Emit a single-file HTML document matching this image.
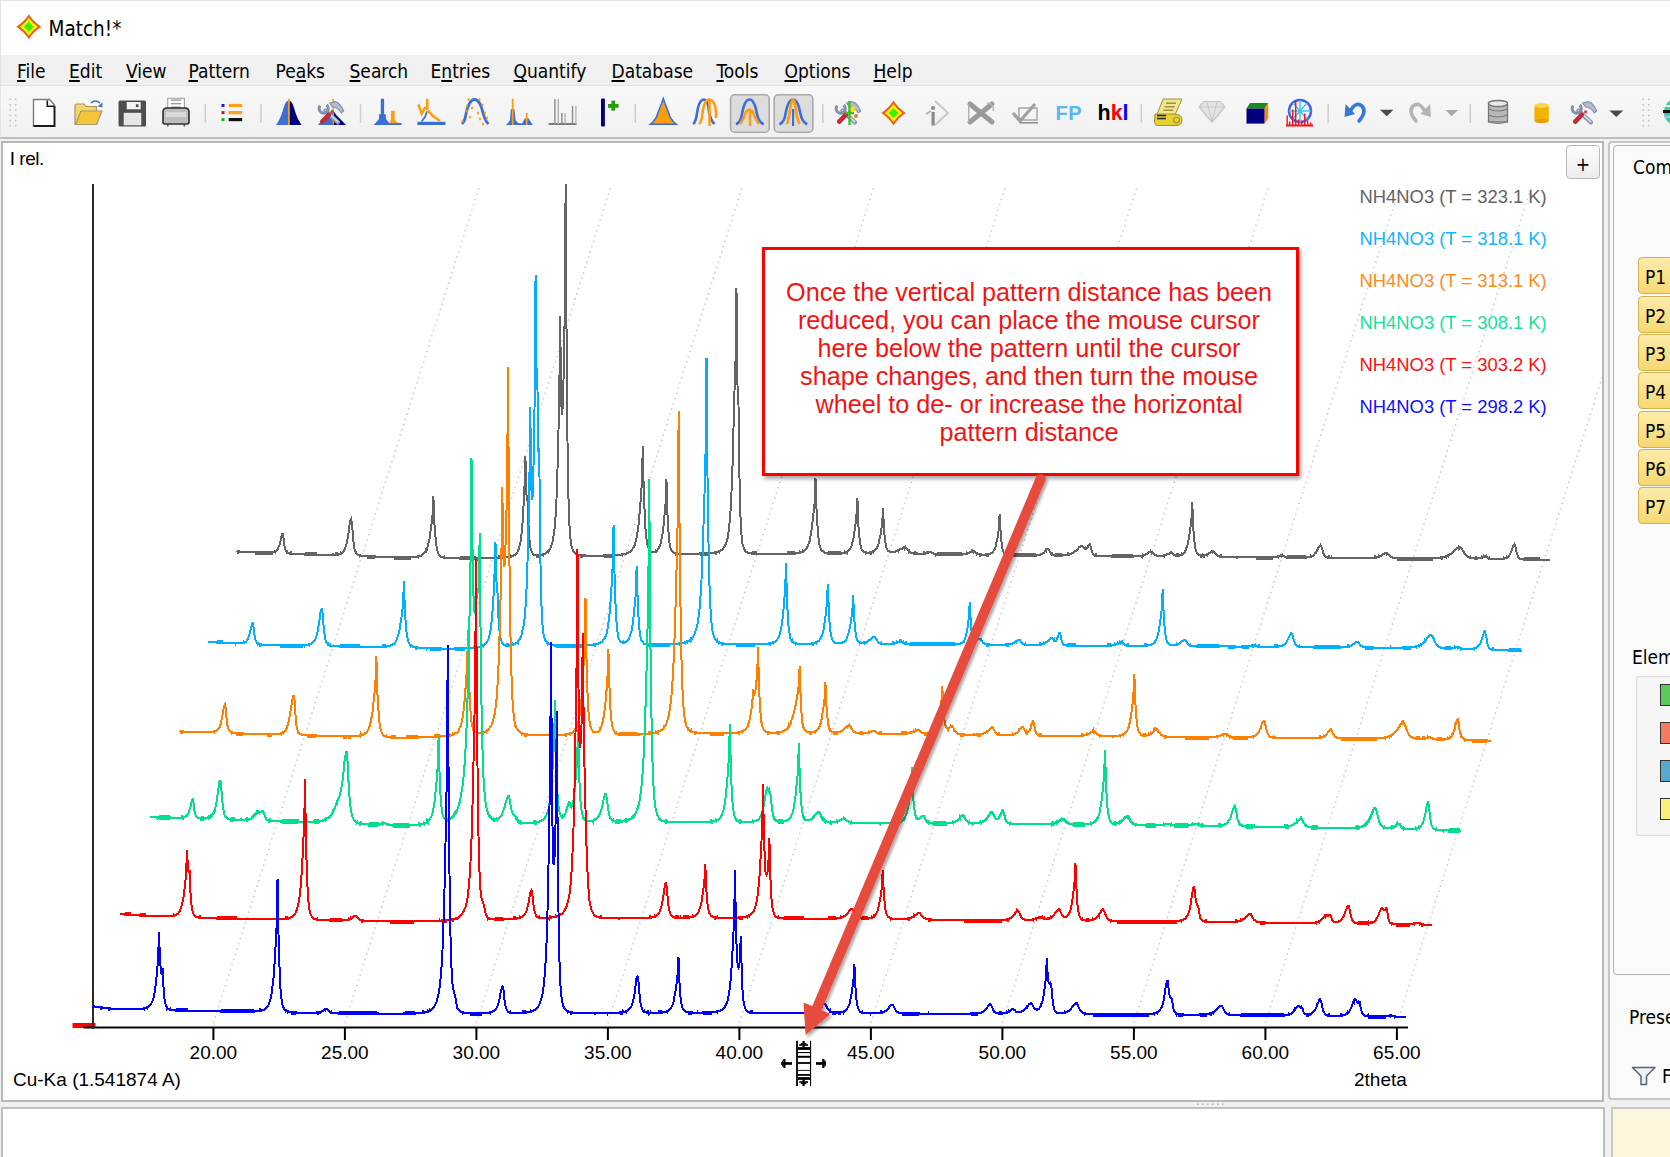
<!DOCTYPE html>
<html><head><meta charset="utf-8"><title>Match!*</title>
<style>
*{box-sizing:border-box}
html,body{margin:0;padding:0}
body{width:1670px;height:1157px;position:relative;overflow:hidden;background:#f0f0f0;font-family:"DejaVu Sans","Liberation Sans",sans-serif;color:#000}
.abs{position:absolute}
#title{left:0;top:0;width:1670px;height:55px;background:#fff;border-top:1px solid #e2e2e2;border-left:1px solid #e2e2e2}
#title .t{position:absolute;left:47.5px;top:16.3px;font-size:20.5px;line-height:24px;font-family:"DejaVu Sans Condensed","DejaVu Sans",sans-serif}
#menu{left:0;top:55px;width:1670px;height:31px;background:#f0f0f0;border-bottom:1px solid #e1e1e1;border-left:1px solid #e2e2e2}
#menu span{position:absolute;top:5px;font-size:19px;line-height:22px;font-family:"DejaVu Sans Condensed","DejaVu Sans",sans-serif}
#menu u{text-decoration:underline;text-decoration-thickness:1.6px;text-underline-offset:2px}
#tb{left:0;top:86px;width:1670px;height:53px;background:linear-gradient(#f8f8f8,#f1f1f1);border-bottom:2px solid #bdbdbd;border-left:1px solid #e2e2e2}
#chart{left:1px;top:141px;width:1603px;height:961px;background:#fff;border:2px solid #b7b7b7}
#bottom{left:1px;top:1107px;width:1604px;height:60px;background:#fff;border:2px solid #bfbfbf}
#rp{left:1608px;top:141px;width:70px;height:959px;background:#fafafa;border:2px solid #c6c6c6;border-radius:4px}
#rpin{left:1613px;top:145px;width:70px;height:830px;background:#fafafa;border:1.6px solid #b0b0b0;border-radius:4px}
#rb{left:1611px;top:1107px;width:70px;height:60px;background:#fcf7dc;border:2px solid #c9c9c9}
.tl{position:absolute;top:1042px;width:80px;text-align:center;font-family:"Liberation Sans",Arial,sans-serif;font-size:19px;line-height:22px;color:#000}
.lg{position:absolute;left:1359.5px;font-family:"Liberation Sans",Arial,sans-serif;font-size:18.4px;line-height:20px;white-space:nowrap}
.ct{position:absolute;font-family:"Liberation Sans",Arial,sans-serif;font-size:19px;line-height:22px;white-space:nowrap}
#note{left:762px;top:247px;width:537px;height:229px;background:#fff;border:3px solid #ff0000;box-shadow:2px 3px 4px rgba(0,0,0,.35)}
#note div{position:absolute;left:-1.5px;top:28px;width:531px;text-align:center;font-family:"Liberation Sans",Arial,sans-serif;font-size:25.2px;line-height:28px;color:#f21414}
.pb{position:absolute;left:1638px;width:40px;height:37px;border:1px solid #d2b24e;border-radius:4px;background:linear-gradient(#fcebaa,#f6d872);font-size:19px;line-height:38px;padding-left:6px;font-family:"DejaVu Sans Condensed","DejaVu Sans",sans-serif}
.sw{position:absolute;left:1660px;width:14px;border:1.5px solid #333}
.sp{position:absolute;font-size:19px;line-height:22px;font-family:"DejaVu Sans Condensed","DejaVu Sans",sans-serif}
</style></head><body>
<div id="title" class="abs"><div class="t">Match!*</div></div>
<div id="menu" class="abs">
<span style="left:16px"><u>F</u>ile</span>
<span style="left:68px"><u>E</u>dit</span>
<span style="left:125px"><u>V</u>iew</span>
<span style="left:187.5px"><u>P</u>attern</span>
<span style="left:274.5px">Pe<u>a</u>ks</span>
<span style="left:348.5px"><u>S</u>earch</span>
<span style="left:429.5px">E<u>n</u>tries</span>
<span style="left:512.5px"><u>Q</u>uantify</span>
<span style="left:610.5px"><u>D</u>atabase</span>
<span style="left:715.5px"><u>T</u>ools</span>
<span style="left:783.5px"><u>O</u>ptions</span>
<span style="left:872.5px"><u>H</u>elp</span>
</div>
<div id="tb" class="abs"></div>
<svg class="abs" style="left:0;top:0" width="1670" height="140" viewBox="0 0 1670 140">
<path d="M28.80 14.30 Q33.67 21.93 41.30 26.80 Q33.67 31.67 28.80 39.30 Q23.93 31.67 16.30 26.80 Q23.93 21.93 28.80 14.30Z" fill="#f25c14"/><path d="M28.80 17.80 Q32.49 23.11 37.80 26.80 Q32.49 30.49 28.80 35.80 Q25.11 30.49 19.80 26.80 Q25.11 23.11 28.80 17.80Z" fill="#f2f214"/><path d="M28.80 21.80 Q31.17 24.43 33.80 26.80 Q31.17 29.18 28.80 31.80 Q26.43 29.18 23.80 26.80 Q26.43 24.43 28.80 21.80Z" fill="#3cf000"/>
<rect x="9.5" y="98.6" width="1.5" height="1.5" fill="#bdbdbd"/><rect x="9.5" y="104.0" width="1.5" height="1.5" fill="#bdbdbd"/><rect x="9.5" y="109.3" width="1.5" height="1.5" fill="#bdbdbd"/><rect x="9.5" y="114.7" width="1.5" height="1.5" fill="#bdbdbd"/><rect x="9.5" y="119.8" width="1.5" height="1.5" fill="#bdbdbd"/><rect x="9.5" y="124.9" width="1.5" height="1.5" fill="#bdbdbd"/><rect x="14.9" y="98.6" width="1.5" height="1.5" fill="#bdbdbd"/><rect x="14.9" y="104.0" width="1.5" height="1.5" fill="#bdbdbd"/><rect x="14.9" y="109.3" width="1.5" height="1.5" fill="#bdbdbd"/><rect x="14.9" y="114.7" width="1.5" height="1.5" fill="#bdbdbd"/><rect x="14.9" y="119.8" width="1.5" height="1.5" fill="#bdbdbd"/><rect x="14.9" y="124.9" width="1.5" height="1.5" fill="#bdbdbd"/>
<path d="M33.5 99.5 H49.5 L54.5 105 V126 H33.5 Z" fill="#fff" stroke="#7a7a7a" stroke-width="1.4"/>
<path d="M33.5 126 H54.5 V106" fill="none" stroke="#1a1a1a" stroke-width="1.8"/>
<path d="M47.3 100.5 V106.3 H54" fill="none" stroke="#1a1a1a" stroke-width="1.6"/>
<path d="M75 124.5 V105.5 Q75 104 77 104 H84 L86 106.5 H96.5 V124.5 Z" fill="#f2d86a" stroke="#a8956a" stroke-width="1.2"/>
<path d="M75.5 124.5 L81 111 H102 L96.5 124.5 Z" fill="#f7c53a" stroke="#a8956a" stroke-width="1.2"/>
<path d="M91 103 Q95 99 100 103" fill="none" stroke="#4a72b0" stroke-width="1.6"/>
<path d="M97.5 106.5 L102.5 102.5 L102.5 107.5 Z" fill="#4a72b0"/>
<rect x="118.5" y="100.5" width="27.5" height="26" rx="1.5" fill="#4d4d4d"/>
<rect x="126.7" y="102" width="14" height="7.3" fill="#f2f2f2"/>
<rect x="135.9" y="104.3" width="2.6" height="2.8" fill="#4d4d4d"/>
<rect x="123.7" y="112.8" width="17.6" height="12.5" fill="#e6e6e6"/>
<rect x="167.7" y="98.3" width="16.7" height="14" fill="#fafafa" stroke="#9a9a9a" stroke-width="1"/>
<rect x="171" y="99.5" width="10" height="1.3" fill="#9a9a9a"/>
<rect x="171" y="103" width="10" height="1.3" fill="#9a9a9a"/>
<rect x="171" y="106.5" width="10" height="1.3" fill="#9a9a9a"/>
<rect x="171" y="110" width="10" height="1.3" fill="#9a9a9a"/>
<path d="M163 112 Q163 108 167 108 H185 Q189 108 189 112 V122 Q189 124 187 124 H165 Q163 124 163 122 Z" fill="#bdbdbd" stroke="#2e2e2e" stroke-width="1.6"/>
<rect x="166" y="112" width="20" height="5" fill="#d9d9d9"/>
<rect x="167" y="123" width="1.6" height="3.5" fill="#555"/><rect x="183.5" y="123" width="1.6" height="3.5" fill="#555"/>
<rect x="204.55" y="104" width="1.5" height="19" fill="#cdcdcd"/>
<rect x="221.5" y="104.0" width="3" height="3" fill="#1515ff"/><rect x="228.7" y="103.9" width="13.5" height="3.2" fill="#ffa01a"/>
<rect x="221.5" y="111.1" width="3" height="3" fill="#d01515"/><rect x="228.7" y="111.0" width="13.5" height="3.2" fill="#ffa01a"/>
<rect x="221.5" y="118.1" width="3" height="3" fill="#15b015"/><rect x="228.7" y="118.0" width="13.5" height="3.2" fill="#111"/>
<rect x="260.15" y="104" width="1.5" height="19" fill="#cdcdcd"/>
<polygon points="275.8,125.0 277.0,123.5 278.5,121.0 280.5,117.0 282.0,113.0 283.5,108.0 285.0,104.0 286.5,101.5 288.8,100.5 288.8,125.0" fill="#3b6fd6"/>
<polygon points="288.8,125.0 288.8,100.5 291.1,101.5 292.6,104.0 294.1,108.0 295.6,113.0 297.1,117.0 299.1,121.0 300.6,123.5 301.8,125.0" fill="#00007f"/>
<rect x="288" y="98.8" width="1.8" height="26.2" fill="#f0a020"/>
<polygon points="318,125 323,119 327,116 330,112 332,109.5 334,112 337,116 341,120 346,125" fill="#3b6fd6"/>
<polygon points="332,109.5 334,112 337,116 341,120 346,125 332,125" fill="#00007f"/>
<rect x="332.3" y="98.8" width="1.6" height="26" fill="#f0a020"/>
<path d="M325.4 110.7 L337.9 122.3" stroke="#8a97b0" stroke-width="4.4" stroke-linecap="round"/>
<path d="M325.8 110.6 L337.6 121.6" stroke="#d4dae6" stroke-width="1.6" stroke-linecap="round"/>
<path d="M320.2 105.6 A4.6 4.6 0 1 0 326.6 105" fill="none" stroke="#8190aa" stroke-width="3"/>
<path d="M329.6 103.2 L335 101.6 Q341 103.5 343.6 111 L341.2 112.8 Q338 107.5 332.5 107 Z" fill="#b4bdd0" stroke="#8595b0" stroke-width="1.2"/>
<path d="M322.2 121.6 L328.8 114.8" stroke="#c42a3a" stroke-width="4.6" stroke-linecap="round"/>
<circle cx="332.6" cy="111.8" r="1.6" fill="#d84040"/>
<rect x="359.75" y="104" width="1.5" height="19" fill="#cdcdcd"/>
<polygon points="373.8,125 379,119 379.1,114.2 380.8,114.2 380.8,98.8 384.1,98.8 384.1,114.2 385.8,114.2 386,119 389.2,123 401.6,123 401.6,125" fill="#3b6fd6"/>
<polygon points="389.2,123.2 391,120 391,110.8 394.7,110.8 394.7,120 398.3,123.2" fill="#ff9c10"/>
<rect x="417.4" y="121.8" width="28" height="3.2" fill="#3b6fd6"/>
<path d="M421.5 121.5 L425 117 L427 111.5" fill="none" stroke="#3b6fd6" stroke-width="1.8"/>
<path d="M418.3 104.5 L421.7 113.5 L425.5 107 M427.2 98.8 V110 M427.8 110.5 L433 116 L440 121" fill="none" stroke="#ff9c10" stroke-width="2.6"/>
<path d="M462 124 Q465 121 466 114 Q469 99.5 474.5 99.5 Q480 99.5 483 113 Q485 121 488.5 124" fill="none" stroke="#3b6fd6" stroke-width="2.8"/>
<rect x="467.6" y="98.2" width="1.8" height="2.6" fill="#ff9c10"/>
<rect x="478.6" y="98.2" width="1.8" height="2.6" fill="#ff9c10"/>
<rect x="466.1" y="104.7" width="1.8" height="2.6" fill="#ff9c10"/>
<rect x="481.6" y="103.7" width="1.8" height="2.6" fill="#ff9c10"/>
<rect x="465.6" y="109.7" width="1.8" height="2.6" fill="#ff9c10"/>
<rect x="471.1" y="106.7" width="1.8" height="2.6" fill="#ff9c10"/>
<rect x="477.1" y="111.7" width="1.8" height="2.6" fill="#ff9c10"/>
<rect x="484.1" y="111.7" width="1.8" height="2.6" fill="#ff9c10"/>
<rect x="469.1" y="115.7" width="1.8" height="2.6" fill="#ff9c10"/>
<rect x="479.1" y="117.7" width="1.8" height="2.6" fill="#ff9c10"/>
<rect x="486.1" y="116.7" width="1.8" height="2.6" fill="#ff9c10"/>
<rect x="461.6" y="119.7" width="1.8" height="2.6" fill="#ff9c10"/>
<rect x="482.1" y="122.7" width="1.8" height="2.6" fill="#ff9c10"/>
<polygon points="505.9,125 508,123 510,120 510.8,109.2 514.5,109.2 515.5,120 518,123 522,123.5 524,120 525,118.2 528.5,118.2 529.5,120 532.8,125" fill="#3b6fd6"/>
<rect x="511.8" y="98.7" width="1.8" height="26.3" fill="#ff9c10"/><rect x="525.8" y="113" width="1.8" height="12" fill="#ff9c10"/>
<rect x="548.6" y="123" width="28" height="2" fill="#7a7a7a"/>
<rect x="554.1999999999999" y="99.1" width="1.4" height="24.900000000000006" fill="#8c8c8c"/>
<rect x="557.5999999999999" y="99.1" width="1.4" height="24.900000000000006" fill="#b0b0b0"/>
<rect x="561.1999999999999" y="113" width="1.4" height="11" fill="#8c8c8c"/>
<rect x="564.3" y="113" width="1.4" height="11" fill="#b0b0b0"/>
<rect x="571.8" y="105.9" width="1.4" height="18.099999999999994" fill="#8c8c8c"/>
<rect x="575.1999999999999" y="105.9" width="1.4" height="18.099999999999994" fill="#b8b8b8"/>
<rect x="601" y="98.6" width="3.9" height="28" rx="1" fill="#00007f"/>
<rect x="608" y="104" width="10.6" height="3.8" fill="#2a9a10"/><rect x="611.4" y="100.6" width="3.8" height="10.1" fill="#2a9a10"/>
<rect x="634.55" y="104" width="1.5" height="19" fill="#cdcdcd"/>
<polygon points="650.3,124.3 653.5,121.5 656.7,116.6 659.0,110.0 661.6,103.5 663.3,98.6 665.0,103.5 667.6,110.0 669.9,116.6 673.1,121.5 676.3,124.3" fill="#ff9c10" stroke="#3b6fd6" stroke-width="1.6"/>
<path d="M693 124 Q696 122 697 113 Q699 99.5 704 99.5 Q708 100 709 112 Q711 121 714.5 124" fill="none" stroke="#3b6fd6" stroke-width="2.6"/>
<path d="M699 124 Q702 121 702.5 113 Q704 99.5 709.5 99.5 Q715 100 716 112 L716 118 M709.5 100 V126" fill="none" stroke="#ff9c10" stroke-width="2.6"/>
<rect x="730.5999999999999" y="94.8" width="38.6" height="37.4" rx="4" fill="#dcdcdc" stroke="#a9a9a9" stroke-width="1.6"/>
<rect x="774.1999999999999" y="94.8" width="38.6" height="37.4" rx="4" fill="#dcdcdc" stroke="#a9a9a9" stroke-width="1.6"/>
<path d="M736 124.3 Q741 122 742 114 Q744.5 99.5 749.5 99.5 Q754.5 99.5 757 114 Q758.5 122 763.7 124.3" fill="none" stroke="#3b6fd6" stroke-width="2.6"/>
<path d="M740 124 Q744 119 746 112 Q748 109.5 749.5 109.5 Q751 109.5 753 112 Q755 119 759 124 M750 110 V126" fill="none" stroke="#ff9c10" stroke-width="2.6"/>
<path d="M779.5 124.3 Q784.5 122 785.5 114 Q788 99.5 793 99.5 Q798 99.5 800.5 114 Q802 122 807.3 124.3" fill="none" stroke="#3b6fd6" stroke-width="2.6"/>
<path d="M787 124 Q789.5 117 790.5 107 Q792 99 793 99 Q794 99 795.5 107 Q796.5 117 799.5 124" fill="none" stroke="#ff9c10" stroke-width="2.6"/>
<rect x="792" y="109" width="2.2" height="17" fill="#3b6fd6"/>
<rect x="822.05" y="104" width="1.5" height="19" fill="#cdcdcd"/>
<path d="M842.4 110.7 L854.9 122.3" stroke="#8a97b0" stroke-width="4.4" stroke-linecap="round"/>
<path d="M842.8 110.6 L854.6 121.6" stroke="#d4dae6" stroke-width="1.6" stroke-linecap="round"/>
<path d="M837.2 105.6 A4.6 4.6 0 1 0 843.6 105" fill="none" stroke="#8190aa" stroke-width="3"/>
<path d="M846.6 103.2 L852 101.6 Q858 103.5 860.6 111 L858.2 112.8 Q855 107.5 849.5 107 Z" fill="#b4bdd0" stroke="#8595b0" stroke-width="1.2"/>
<path d="M839.2 121.6 L845.8 114.8" stroke="#c42a3a" stroke-width="4.6" stroke-linecap="round"/>
<circle cx="849.6" cy="111.8" r="1.6" fill="#d84040"/>
<path d="M849.5 101 V125 M845 113 H854" stroke="#40c020" stroke-width="2.4"/>
<circle cx="853" cy="109" r="2.5" fill="#f0e020"/><circle cx="856" cy="116" r="2" fill="#f08020"/>
<path d="M893.50 100.50 Q898.26 108.12 905.70 113.00 Q898.26 117.88 893.50 125.50 Q888.74 117.88 881.30 113.00 Q888.74 108.12 893.50 100.50Z" fill="#f25c14"/><path d="M893.50 104.00 Q897.10 109.31 902.28 113.00 Q897.10 116.69 893.50 122.00 Q889.90 116.69 884.72 113.00 Q889.90 109.31 893.50 104.00Z" fill="#f2f214"/><path d="M893.50 108.00 Q895.82 110.62 898.38 113.00 Q895.82 115.38 893.50 118.00 Q891.18 115.38 888.62 113.00 Q891.18 110.62 893.50 108.00Z" fill="#3cf000"/>
<path d="M935 101 L948 113 L935 125" fill="none" stroke="#c8c8c8" stroke-width="2"/>
<rect x="931.5" y="112" width="3.2" height="13.5" fill="#8a8a8a"/><circle cx="933" cy="108" r="2" fill="#8a8a8a"/>
<path d="M926 114 L931 111" stroke="#b0b0b0" stroke-width="2"/>
<path d="M970 104 L992 122 M970 122 L992 104" stroke="#9a9a9a" stroke-width="5" stroke-linecap="round"/>
<rect x="968" y="104" width="1.5" height="18" fill="#b0b0b0"/>
<path d="M987 103 Q995 104 993 111" fill="none" stroke="#b8b8b8" stroke-width="1.5"/>
<path d="M1013 113 L1020 121 L1035 104" fill="none" stroke="#a0a0a0" stroke-width="3.2"/>
<rect x="1019" y="108" width="18" height="12" fill="none" stroke="#9a9a9a" stroke-width="1.3"/>
<rect x="1020" y="122" width="18" height="1.5" fill="#8a8a8a"/>
<text x="1055.5" y="119.6" font-family="Liberation Sans, Arial, sans-serif" font-weight="bold" font-size="20" fill="#5ab4f5" letter-spacing="0.5">FP</text>
<text x="1097.5" y="119.6" font-family="Liberation Sans, Arial, sans-serif" font-weight="bold" font-size="21.5"><tspan fill="#000">h</tspan><tspan fill="#ff0000">k</tspan><tspan fill="#0000ff">l</tspan></text>
<rect x="1140.55" y="104" width="1.5" height="19" fill="#cdcdcd"/>
<path d="M1163 99 H1182 L1174 117 H1156 Z" fill="#f0e68a" stroke="#a09040" stroke-width="1"/>
<rect x="1166.0" y="102.5" width="10" height="1.5" fill="#a09040"/>
<rect x="1164.6" y="106" width="10" height="1.5" fill="#a09040"/>
<rect x="1163.2" y="109.5" width="10" height="1.5" fill="#a09040"/>
<path d="M1155 114 H1174 Q1182 114 1182 120 Q1182 125.5 1176 125.5 H1157 Q1154.5 125.5 1154.5 120 Z" fill="#e8d030" stroke="#a09040" stroke-width="1"/>
<rect x="1157" y="114.8" width="9" height="1.5" fill="#222"/><rect x="1157" y="117.8" width="9" height="1.5" fill="#222"/>
<circle cx="1176.5" cy="120" r="3" fill="none" stroke="#a09040" stroke-width="1.2"/>
<path d="M1199 107 L1204 101.5 H1220 L1225 107 L1212 122 Z" fill="#e4e4e4" stroke="#c4c4c4" stroke-width="1.2"/>
<path d="M1199 107 H1225 M1207 101.5 L1212 122 L1217 101.5" fill="none" stroke="#c8c8c8" stroke-width="1"/>
<polygon points="1246.5,108.5 1250,103 1268.2,103 1264.5,108.5" fill="#1a8a1a"/>
<polygon points="1264.5,108.5 1268.2,103 1268.2,118.5 1264.5,123.6" fill="#ff8a00"/>
<rect x="1246.5" y="108.5" width="18" height="15.1" fill="#00007f"/>
<circle cx="1300" cy="111" r="11" fill="none" stroke="#4858f0" stroke-width="2.4"/>
<path d="M1300 100 V122 M1289 111 H1311 M1293 103 L1307 119 M1307 103 L1293 119" stroke="#38c8f0" stroke-width="1.5"/>
<path d="M1286 125.5 H1313" stroke="#ff1010" stroke-width="2"/>
<rect x="1286.5" y="115.5" width="1.4" height="10" fill="#ff1010"/>
<rect x="1289" y="121.5" width="1.4" height="4" fill="#ff1010"/>
<rect x="1292" y="109.5" width="1.4" height="16" fill="#ff1010"/>
<rect x="1295" y="100.5" width="1.4" height="25" fill="#ff1010"/>
<rect x="1298" y="119.5" width="1.4" height="6" fill="#ff1010"/>
<rect x="1301" y="121.5" width="1.4" height="4" fill="#ff1010"/>
<rect x="1304" y="113.5" width="1.4" height="12" fill="#ff1010"/>
<rect x="1307" y="120.5" width="1.4" height="5" fill="#ff1010"/>
<rect x="1310" y="122.5" width="1.4" height="3" fill="#ff1010"/>
<rect x="1327.45" y="104" width="1.5" height="19" fill="#cdcdcd"/>
<path d="M1350 112 Q1355 101 1362 106 Q1367 112 1359 121" fill="none" stroke="#3a78d8" stroke-width="3.6" stroke-linecap="round"/>
<polygon points="1344.6,117 1345.5,104 1355,114" fill="#3a78d8"/>
<polygon points="1380,109.7 1393.4,109.7 1386.7,116.3" fill="#4a4a4a"/>
<path d="M1425 112 Q1420 101 1413 106 Q1408 112 1416 121" fill="none" stroke="#b4b4b4" stroke-width="3.6" stroke-linecap="round"/>
<polygon points="1431,117 1430,104 1420.5,114" fill="#b4b4b4"/>
<polygon points="1445.5,110 1458,110 1451.7,116.2" fill="#a8a8a8"/>
<rect x="1469.55" y="104" width="1.5" height="19" fill="#cdcdcd"/>
<rect x="1488.5" y="103" width="19" height="19" fill="#b8b8b8" stroke="#777" stroke-width="1.3"/>
<ellipse cx="1498" cy="103.5" rx="9.5" ry="3" fill="#e8e8e8" stroke="#777" stroke-width="1.3"/>
<path d="M1488.5 109 Q1498 113 1507.5 109" fill="none" stroke="#777" stroke-width="1.2"/>
<path d="M1488.5 115 Q1498 119 1507.5 115" fill="none" stroke="#777" stroke-width="1.2"/>
<path d="M1488.5 121.5 Q1498 125.5 1507.5 121.5" fill="none" stroke="#777" stroke-width="1.2"/>
<rect x="1534.4" y="105" width="14.4" height="16.5" rx="2" fill="#f2b400"/>
<ellipse cx="1541.6" cy="105.5" rx="7.2" ry="2.6" fill="#ffd84a"/>
<ellipse cx="1541.6" cy="121" rx="7.2" ry="2.2" fill="#e0a000"/>
<path d="M1578.4 110.7 L1590.9 122.3" stroke="#8a97b0" stroke-width="4.4" stroke-linecap="round"/>
<path d="M1578.8 110.6 L1590.6 121.6" stroke="#d4dae6" stroke-width="1.6" stroke-linecap="round"/>
<path d="M1573.2 105.6 A4.6 4.6 0 1 0 1579.6 105" fill="none" stroke="#8190aa" stroke-width="3"/>
<path d="M1582.6 103.2 L1588 101.6 Q1594 103.5 1596.6 111 L1594.2 112.8 Q1591 107.5 1585.5 107 Z" fill="#b4bdd0" stroke="#8595b0" stroke-width="1.2"/>
<path d="M1575.2 121.6 L1581.8 114.8" stroke="#c42a3a" stroke-width="4.6" stroke-linecap="round"/>
<circle cx="1585.6" cy="111.8" r="1.6" fill="#d84040"/>
<polygon points="1609.4,110.5 1623.2,110.5 1616.3,117" fill="#4a4a4a"/>
<rect x="1642.5" y="98.6" width="1.5" height="1.5" fill="#bdbdbd"/><rect x="1642.5" y="104.0" width="1.5" height="1.5" fill="#bdbdbd"/><rect x="1642.5" y="109.3" width="1.5" height="1.5" fill="#bdbdbd"/><rect x="1642.5" y="114.7" width="1.5" height="1.5" fill="#bdbdbd"/><rect x="1642.5" y="119.8" width="1.5" height="1.5" fill="#bdbdbd"/><rect x="1642.5" y="124.9" width="1.5" height="1.5" fill="#bdbdbd"/><rect x="1647.9" y="98.6" width="1.5" height="1.5" fill="#bdbdbd"/><rect x="1647.9" y="104.0" width="1.5" height="1.5" fill="#bdbdbd"/><rect x="1647.9" y="109.3" width="1.5" height="1.5" fill="#bdbdbd"/><rect x="1647.9" y="114.7" width="1.5" height="1.5" fill="#bdbdbd"/><rect x="1647.9" y="119.8" width="1.5" height="1.5" fill="#bdbdbd"/><rect x="1647.9" y="124.9" width="1.5" height="1.5" fill="#bdbdbd"/>
<circle cx="1678" cy="112" r="14" fill="#40c8a0"/>
<rect x="1663" y="110" width="10" height="3" fill="#111"/>
<path d="M1664 106 H1672" stroke="#fff" stroke-width="1.5"/><path d="M1664 117 H1672" stroke="#8ad8f8" stroke-width="2"/>
</svg>
<div id="chart" class="abs"></div>
<div id="bottom" class="abs"></div>
<div id="rp" class="abs"></div>
<div id="rpin" class="abs"></div>
<div id="rb" class="abs"></div>
<svg class="abs" style="left:0;top:0" width="1670" height="1157" viewBox="0 0 1670 1157">
<defs><clipPath id="cc"><rect x="3" y="143" width="1599" height="956"/></clipPath></defs>
<g clip-path="url(#cc)">
<g stroke="#c8c8c8" stroke-width="1.5" stroke-dasharray="1.5 4"><line x1="213.4" y1="1023" x2="479.9" y2="185"/><line x1="344.9" y1="1023" x2="611.4" y2="185"/><line x1="476.4" y1="1023" x2="742.9" y2="185"/><line x1="607.9" y1="1023" x2="874.4" y2="185"/><line x1="739.4" y1="1023" x2="1005.9" y2="185"/><line x1="870.9" y1="1023" x2="1137.4" y2="185"/><line x1="1002.4" y1="1023" x2="1268.9" y2="185"/><line x1="1133.9" y1="1023" x2="1400.4" y2="185"/><line x1="1265.4" y1="1023" x2="1531.9" y2="185"/><line x1="1396.9" y1="1023" x2="1663.4" y2="185"/></g>
<rect x="72.5" y="1023" width="23" height="5" fill="#ff0000"/>
<rect x="83.5" y="1026.5" width="1324.5" height="2" fill="#000"/>
<rect x="92" y="184" width="2" height="845" fill="#2b2b2b"/>
<rect x="212.4" y="1027" width="2" height="13" fill="#000"/><rect x="343.9" y="1027" width="2" height="13" fill="#000"/><rect x="475.4" y="1027" width="2" height="13" fill="#000"/><rect x="606.9" y="1027" width="2" height="13" fill="#000"/><rect x="738.4" y="1027" width="2" height="13" fill="#000"/><rect x="869.9" y="1027" width="2" height="13" fill="#000"/><rect x="1001.4" y="1027" width="2" height="13" fill="#000"/><rect x="1132.9" y="1027" width="2" height="13" fill="#000"/><rect x="1264.4" y="1027" width="2" height="13" fill="#000"/><rect x="1395.9" y="1027" width="2" height="13" fill="#000"/>
<path fill="none" stroke="#646367" stroke-width="2" shape-rendering="crispEdges" d="M237.0 551l.5 1l.5-1l.5 1l.5-1l.5 1l15.5 0l.5 1l.5-1l.5 1l.5-1l.5 1l.5-1l.5 1l.5-1l.5 1l.5-1l.5 1l.5-1l.5 1l.5-1l.5 1l.5-1l.5 1l.5-1l.5 1l.5-1l.5 1l.5-1l.5 1l.5-1l.5 1l.5-1l.5 1l.5-1l.5 1l.5-1l.5 1l.5-1l.5 1l.5-1l.5 1l.5-1l1.5 0l.5-1l.5 1l.5-1l.5 0l.5-1l.5 0l.5-2l.5-1l.5-1l.5-1l.5-2l.5-2l.5-3l.5-2l.5-2l.5 0l.1-1l.4 2l.5 3l.5 4l.5 4l.5 3l.5 1l.5 1l.5 1l.5 1l.5-1l.5 1l1.5 0l.5 1l.5-1l.5 1l.5-1l.5 1l12.5 0l.5 1l.5-1l.5 1l.5-1l.5 1l.5-1l.5 1l.5-1l.5 1l.5-1l.5 1l.5-1l.5 1l.5-1l.5 1l.5-1l.5 1l.5-1l.5 1l.5-1l.5 1l.5-1l.5 1l.5-1l.5 1l15.5 0l.5-1l.5 1l1.5 0l.5-1l.5 1l.5-1l.5 1l.5-1l.5 1l.5-1l1.5 0l.5-1l.5 1l.5-1l.5 0l.5-1l.5 0l.5-1l.5 0l.5-2l.5 0l.5-2l.5-1l.5-2l.5-2l.5-3l.5-2l.5-4l.5-3l.5-5l.5-2l.5-3l.5-1l.2 1l.3 1l.5 4l.5 5l.5 7l.5 5l.5 3l.5 4l.5 1l.5 2l.5 0l.5 2l.5 0l.5 1l1.5 0l.5 1l.5-1l.5 1l6.5 0l.5 1l.5-1l.5 1l.5-1l.5 1l.5-1l.5 1l.5-1l.5 1l.5-1l.5 1l.5-1l.5 1l.5-1l.5 1l.5-1l.5 1l18.5 0l.5 1l.5-1l.5 1l.5-1l.5 1l.5-1l.5 1l.5-1l.5 1l.5-1l.5 1l.5-1l.5 1l.5-1l.5 1l.5-1l.5 1l.5-1l.5 1l.5-1l.5 1l.5-1l.5 1l.5-1l.5 1l.5-1l.5 1l.5-1l.5 1l.5-1l.5 1l.5-1l.5 1l.5-1l6.5 0l.5-1l.5 1l.5-1l2.5 0l.5-1l.5 0l.5-1l.5 0l.5-1l.5 0l.5-1l.5 0l.5-2l.5 1l.5-3l.5-1l.5-2l.5-2l.5-3l.5-1l.5-5l.5-3l.5-4l.5-3l.5-4l.5-5l.5-12l.3-7l.2 4l.5 16l.5 9l.5 8l.5 4l.5 6l.5 3l.5 4l.5 1l.5 2l.5 1l.5 1l.5 0l.5 1l.5 0l.5 1l2.5 0l.5 1l.5-1l.5 1l14.5 0l.5 1l.5-1l.5 1l.5-1l.5 1l.5-1l.5 1l.5-1l.5 1l.5-1l.5 1l.5-1l.5 1l.5-1l.5 1l.5-1l.5 1l.5-1l.5 1l.5-1l.5 1l.5-1l.5 1l.5-1l.5 1l.5-1l.5 1l.5-1l.5 1l.5-1l.5 1l.5-1l.5 1l.5-1l.5 0l.5 1l.5-1l20 0l.5-1l.5 1l.5-1l.5 1l.5-1l.5 1l.5-1l.5 1l.5-1l.5 1l.5-1l.5 1l.5-1l4.5 0l.5-1l.5 1l.5-1l.5 1l.5-1l1.5 0l.5-1l1.5 0l.5-1l.5 0l.5-1l.5 0l.5-1l.5-1l.5-2l.5 0l.5-3l.5-2l.5-2l.5-2l.5-6l.5-4l.5-7l.5-8l.5-9l.5-9l.5-11l.5-20l.3-10l.2 4l.5 22l.5 13l.5 5l.5 0l.5 14l.5 11l.5 9l.5 6l.5 3l.5 5l.5 1l.5 2l.5 1l.5 1l.5 1l.5 1l2.5 0l.5 1l.5-1l.5 1l.5-1l.5 1l.5-1l.5 1l.5-1l2.5 0l.5-1l.5 1l.5-1l1.5 0l.5-1l.5 0l.5-1l.5 0l.5-1l.5 1l.5-2l.5 0l.5-1l.5-1l.5-2l.5-1l.5-2l.5-1l.5-3l.5-3l.5-4l.5-3l.5-6l.5-6l.5-9l.5-9l.5-14l.5-16l.5-19l.5-20l.5-23l.5-31l.5-56l.1-4l.4 29l.5 41l.5 21l.5 8l.5-5l.5-12l.5-18l.5-26l.5-27l.5-41l.5-82l.2-20l.3 43l.5 102l.5 66l.5 46l.5 35l.5 23l.5 14l.5 13l.5 7l.5 6l.5 3l.5 4l.5 1l.5 2l.5 1l.5 2l.5 0l.5 1l.5 0l.5 1l.5 0l.5 1l.5-1l.5 1l2.5 0l.5 1l.5-1l.5 1l.5-1l.5 1l.5-1l.5 1l1 0l.5-1l.5 1l17.5 0l.5-1l.5 0l.5 1l.5-1l.5 1l.5-1l.5 1l.5-1l.5 1l.5-1l.5 1l.5-1l.5 1l.5-1l.5 1l.5-1l.5 1l.5-1l.5 1l.5-1l.5 1l.5-1l7.5 0l.5-1l.5 1l.5-1l3.5 0l.5-1l1.5 0l.5-1l1.5 0l.5-1l.5 0l.5-1l.5-1l.5-1l.5 0l.5-2l.5 0l.5-3l.5-1l.5-2l.5-2l.5-3l.5-3l.5-4l.5-3l.5-6l.5-5l.5-7l.5-5l.5-7l.5-7l.5-10l.5-20l.3-12l.2 7l.5 27l.5 17l.5 12l.5 11l.5 9l.5 6l.5 4l.5 4l.5 2l.5 2l.5 1l.5 2l.5 0l.5 1l.5 0l.5 1l4 0l.5-1l.5 1l.5-1l.5 0l.5-1l.5-1l.5-1l.5 0l.5-2l.5 0l.5-2l.5-2l.5-3l.5-2l.5-3l.5-4l.5-4l.5-5l.5-6l.5-4l.5-7l.5-13l.4-12l.1 2l.5 19l.5 15l.5 9l.5 8l.5 6l.5 5l.5 2l.5 3l.5 1l.5 2l.5 0l.5 1l.5 0l.5 1l1.5 0l.5 1l.5-1l.5 1l23 0l.5-1l.5 1l.5-1l.5 1l.5-1l.5 1l.5-1l.5 1l.5-1l.5 1l.5-1l.5 1l.5-1l.5 1l.5-1l.5 1l.5-1l.5 1l.5-1l.5 1l.5-1l4.5 0l.5-1l.5 1l.5-1l.5 1l.5-1l1.5 0l.5-1l.5 1l.5-1l.5 0l.5-1l1 0l.5-1l.5 0l.5-1l.5-1l.5 0l.5-2l.5 0l.5-2l.5-1l.5-3l.5 0l.5-4l.5-3l.5-4l.5-5l.5-6l.5-6l.5-10l.5-9l.5-12l.5-13l.5-17l.5-22l.5-32l.5-5l.5-12l.5-17l.5-36l.4-38l.1 3l.5 57l.5 37l.5 19l.5 1l.5 39l.5 34l.5 23l.5 16l.5 11l.5 7l.5 5l.5 4l.5 2l.5 1l.5 2l.5 0l.5 2l.5 0l.5 1l1.5 0l.5 1l3.5 0l.5 1l.5-1l.5 1l.5-1l.5 1l.5-1l.5 1l.5-1l.5 1l.5-1l.5 1l30 0l.5-1l.5 1l.5-1l.5 1l.5-1l.5 1l.5-1l.5 1l.5-1l.5 1l.5-1l.5 1l.5-1l.5 1l.5-1l.5 1l.5-1l3.5 0l.5-1l.5 1l.5-1l1.5 0l.5-1l.5 1l.5-1l.5 0l.5-1l.5 0l.5-1l.5 0l.5-1l.5 0l.5-2l.5 0l.5-2l.5-2l.5 0l.5-4l.5-2l.5-2l.5-4l.5-4l.5-4l.5-3l.5-6l.5-3l.5-6l.5-9l.5-17l.5 18l.5 13l.5 10l.5 7l.5 8l.5 4l.5 4l.5 3l.5 2l.5 1l.5 2l.5 0l.5 1l1 0l.5 1l1 0l.5 1l2.5 0l.5 1l.5-1l.5 1l.5-1l.5 1l.5-1l.5 1l.5-1l.5 1l.5-1l.5 1l.5-1l.5 1l.5-1l.5 1l.5-1l.5 1l.5-1l.5 1l.5-1l.5 1l.5-1l.5 1l.5-1l.5 1l.5-1l.5 1l.5-1l2.5 0l.5-1l.5 1l.5-1l1 0l.5 1l.5-2l.5 0l.5-1l.5 0l.5-1l.5 0l.5-1l.5-1l.5-1l.5-2l.5-2l.5-2l.5-2l.5-3l.5-4l.5-3l.5-4l.5-3l.5-7l.5-11l.3-5l.2 3l.5 16l.5 10l.5 6l.5 5l.5 4l.5 3l.5 2l.5 2l.5 1l.5 1l.5 0l.5 1l1.5 0l.5 1l.5-1l.5 1l3 0l.5-1l.5 1l.5-1l.5 1l.5-1l.5 0l.5-1l.5 1l.5-1l.5-1l1 0l.5-1l.5 0l.5-2l.5 0l.5-1l.5-2l.5-3l.5-2l.5-2l.5-2l.5-4l.5-3l.5-4l.5-6l.5-10l.5 11l.5 9l.5 7l.5 4l.5 4l.5 3l.5 2l.5 1l.5 1l.5 1l1 0l.5 1l6 0l.5-1l1.5 0l.5-1l.5 1l.5-1l.5-1l2.5 0l.5-1l1 0l.5-1l.5 1l.3-1l.2 1l.5-1l.5 1l.5 0l.5 1l.5 0l.5 1l.5 0l.5 2l.5-1l.5 1l.5 0l.5 1l2.5 0l.5 1l.5-1l.5 1l.5-1l.5 1l.5 0l.5-1l.5 1l5.5 0l.5-1l.5 1l.5-1l.5 1l.5-1l1 0l.5-1l.5 0l.5 1l.5-1l3 0l.5 1l1.5 0l.5 1l1 0l.5 1l.5-1l.5 0l.5 1l.5-1l.5 1l.5-1l.5 1l.5-1l.5 1l.5-1l.5 1l.5-1l.5 1l.5-1l.5 1l.5-1l.5 1l.5-1l.5 1l.5-1l.5 1l.5-1l.5 1l.5-1l.5 1l.5-1l.5 1l.5-1l.5 1l.5-1l.5 1l.5-1l.5 1l.5-1l.5 1l.5-1l.5 1l.5-1l.5 1l.5-1l.5 1l.5-1l.5 1l.5-1l.5 1l.5-1l.5 1l.5-1l.5 1l.5-1l.5 1l.5-1l.5 1l.5-1l3.5 0l.5-1l.5 1l.5-1l1.5 0l.5-1l1.5 0l.5-1l.5 1l.5-1l.5 1l.3-1l.2 1l.5-1l.5 1l.5 0l.5 1l.5 0l.5 1l.5-1l.5 1l1.5 0l.5 1l.5-1l.5 1l.5-1l.5 1l4 0l.5-1l.5 1l.5-1l.5 1l.5-1l.5 1l.5-1l1.5 0l.5-1l1.5 0l.5-1l.5-1l.5-1l.5 0l.5-2l.5-1l.5-2l.5-3l.5-2l.5-2l.5-4l.5-3l.5-6l.5-9l.2-2l.3 4l.5 12l.5 8l.5 4l.5 5l.5 2l.5 2l.5 1l.5 1l.5 0l.5 1l.5 0l.5 1l3.5 0l.5 1l.5-1l.5 1l.5-1l.5 1l.5-1l.5 1l.5-1l.5 1l.5-1l.5 1l.5-1l.5 1l.5-1l.5 1l.5-1l.5 1l.5-1l.5 1l.5-1l.5 1l.5-1l.5 1l.5-1l.5 1l.5-1l.5 1l.5-1l.5 1l.5-1l.5 1l.5-1l.5 1l.5-1l.5 1l.5-1l.5 1l.5-1l.5 1l.5-1l.5 1l.5-1l.5 1l.5-1l.5 1l.5-1l.5 1l.5-1l.5 1l.5-1l.5 1l.5-1l.5 1l.5-1l3.5 0l.5-1l1.5 0l.5-1l1.5 0l.5-1l.5-1l.5-1l.5 1l.5-2l2 0l.5 1l.5 1l.5 1l.5 0l.5 2l.5 0l.5 1l.5-1l.5 1l1.5 0l.5 1l.5-1l.5 1l.5-1l.5 1l.5-1l.5 1l.5-1l.5 1l.5-1l.5 1l.5-1l.5 1l.5-1l.5 1l.5-1l4.5 0l.5-1l.5 1l.5-1l.5 1l.5-1l1.5 0l.5-1l1.5 0l.5-1l1 0l.5-1l1 0l.5-1l.5 0l.5-1l.5 0l.5-1l.5-1l1 0l.5-1l1.5 0l.5 1l1 0l.5 1l.5 0l.5 1l.5-1l.5 1l.5-1l.5 0l.5-1l.5 0l.5-2l.5 0l.5-1l.5 0l.5 2l.5 2l.5 2l.5 2l.5 1l.5 1l.5 0l.5 1l.5 0l.5 1l.5-1l.5 1l.5-1l.5 1l14.5 0l.5 1l.5-1l.5 1l.5-1l.5 1l.5-1l.5 1l.5-1l.5 1l.5-1l.5 1l.5-1l.5 1l.5-1l.5 1l.5-1l.5 1l.5-1l.5 1l.5-1l.5 1l.5-1l.5 1l.5-1l.5 1l.5-1l.5 1l.5-1l.5 1l.5-1l.5 1l.5-1l.5 1l.5-1l.5 1l.5-1l.5 1l.5-1l.5 1l.5-1l.5 1l.5-1l.5 1l.5-1l8 0l.5 1l.5-2l.5 1l.5-1l1.5 0l.5-1l1.5 0l.5-1l.5 0l.5-1l1.5 0l.5-1l.5 1l.1-1l.4 1l.5 0l.5 1l.5 0l.5 1l.5 0l.5 1l1.5 0l.5 1l7 0l.5-1l.5 1l.5-1l1.5 0l.5-1l2 0l.5-1l1 0l.5-1l.5 0l.5 1l.5 0l.5 1l.5 0l.5 1l1.5 0l.5 1l.5-1l.5 1l.5-1l.5 1l.5-1l.5 1l.5-1l1.5 0l.5-1l.5 1l.5-1l.5 0l.5-1l.5 0l.5-1l.5 0l.5-2l.5 0l.5-3l.5 0l.5-2l.5-2l.5-3l.5-2l.5-4l.5-3l.5-4l.5-4l.5-5l.5-13l.2-3l.3 7l.5 12l.5 10l.5 6l.5 5l.5 5l.5 2l.5 1l.5 2l.5 1l.5 1l.5 0l.5 1l1.5 0l.5 1l.5-1l.5 1l.5-1l.5 2l.5-2l.5 1l.5-1l.5 1l.5-1l1.5 0l.5-1l.5 1l.5-1l.5 0l.5-1l1.5 0l.5-1l.5 0l.5-1l.5 1l.5-1l.5 0l.5 1l.5 0l.5 1l.5 0l.5 1l.5 0l.5 1l.5 0l.5 1l1.5 0l.5 1l.5-1l.5 1l.5-1l.5 1l14.5 0l.5 1l.5-1l18.5 0l.5 1l.5-1l.5 1l.5-1l.5 1l.5-1l.5 1l.5-1l.5 1l.5-1l.5 1l.5-1l.5 1l.5-1l.5 1l.5-1l.5 1l.5-1l.5 1l.5-1l.5 1l.5-1l.5 1l.5-1l.5 1l.5-1l.5 1l.5-1l.5 1l.5-1l.5 1l.5-1l.5 1l.5-1l4.5 0l.5-1l.5 1l.5-1l1 0l.5-1l.5 0l.5 1l.5-1l.3 1l.2-1l.5 1l1.5 0l.5 1l1.5 0l.5 1l.5-1l.5 1l.5-1l.5 1l.5-1l.5 1l.5-1l.5 1l.5-1l.5 1l.5-1l.5 1l.5-1l.5 1l.5-1l.5 1l.5-1l.5 1l.5-1l.5 1l.5-1l.5 1l.5-1l.5 1l.5-1l.5 1l.5-1l.5 1l.5-1l.5 1l.5-1l.5 1l.5-1l.5 1l.5-1l.5 1l.5-1l.5 1l.5 0l.5-1l3 0l.5-1l.5 1l.5-1l2 0l.5-1l.5-1l.5-1l1 0l.5-2l.5 0l.5-2l.5 0l.5-2l.5 0l.5-1l.5 0l.5-1l.5 1l.5 1l.5 2l.5 1l.5 3l.5 0l.5 2l.5 0l.5 1l.5 0l.5 1l1.5 0l.5 1l.5-1l.5 1l.5-1l.5 1l1 0l.5-1l.5 1l42 0l.5-1l.5 1l.5-1l.5 1l.5-1l1.5 0l.5-1l.5 1l.5-1l1.5 0l.5-1l.5 0l.5-1l1.5 0l.5-1l1.8 0l.2 1l.5-1l.5 1l.5 0l.5 1l.5 0l.5 1l.5 0l.5 1l1.5 0l.5 1l4.5 0l.5 1l.5-1l.5 1l.5-1l.5 1l.5-1l.5 1l.5-1l.5 1l.5-1l.5 1l.5-1l.5 1l.5-1l.5 1l.5-1l.5 1l.5-1l.5 1l.5-1l.5 1l.5-1l.5 1l.5-1l.5 1l.5-1l.5 1l.5-1l.5 1l.5-1l.5 1l.5-1l.5 1l.5-1l.5 1l.5-1l.5 1l.5-1l.5 1l.5-1l.5 1l.5-1l.5 1l.5-1l.5 1l.5-1l.5 1l.5-1l.5 1l.5-1l.5 1l.5-1l.5 1l.5-1l.5 1l.5-1l.5 1l.5-1l.5 1l.5-1l.5 1l.5-1l.5 1l.5-1l.5 1l.5-1l.5 1l.5-1l.5 1l.5-1l.5 1l.5-1l7.5 0l.5-1l.5 1l.5-1l.5 1l.5-1l2.5 0l.5-1l.5 1l.5-1l.5 0l.5-1l.5 1l.5-1l.5 0l.5-1l1.5 0l.5-1l.5 0l.5-1l.5 0l.5-1l.5 0l.5-1l.5 0l.5-1l.5-1l1.5 0l.5 1l.5-2l.5 1l.5-1l.5 0l.5 1l.5 0l.5 1l.5 1l.5 1l.5 0l.5 2l.5 0l.5 1l.5 0l.5 1l.5 0l.5 1l.5 0l.5 1l1.5 0l.5 1l.5-1l.5 1l3.5 0l.5 1l.5-1l.5 1l.5-1l.5 1l.5-1l3.5 0l.5-1l.5 1l.5-1l.5 0l.5-1l.5 1l.5-1l1 0l.5 1l.5-1l.5 1l.5 0l.5 1l.5 0l.5 1l.5-1l.5 1l13 0l.5-1l.5 1l.5-1l1.5 0l.5-1l.5 1l.5-1l1 0l.5-1l.5-1l.5-1l.5-1l.5-1l.5-1l.5-1l.5-2l.5-1l.5-2l.5 0l.5-1l.5 1l.5 2l.5 3l.5 2l.5 2l.5 1l.5 2l.5 0l.5 1l.5 0l.5 1l3.5 0l.5 1l.5-1l.5 1l.5-1l.5 1l.5-1l.5 1l.5-1l.5 1l.5-1l.5 1l.5-1l.5 1l.5-1l.5 1l.5-1l.5 1l.5-1l.5 1l.5-1l.5 1l.5-1l.5 1l.5-1l.5 1l.5-1l.5 1l.5-1l.5 1l.5-1l.5 1l.5-1l.5 1l9.5 0"/>
<path fill="none" stroke="#00b0ff" stroke-width="2" shape-rendering="crispEdges" d="M207.5 642l9 0l.5 1l.5-1l.5 1l.5-1l.5 1l.5-1l.5 1l.5-1l.5 1l.5-1l.5 1l.5-1l.5 1l12 0l.5 1l.5-1l7 0l.5-1l.5 1l.5-1l1.5 0l.5-1l.5-1l.5-1l.5 0l.5-2l.5-1l.5-2l.5-2l.5-2l.5-2l.5-2l.5-2l.5-1l.2-1l.3 1l.5 4l.5 4l.5 4l.5 2l.5 3l.5 1l.5 1l.5 1l.5 1l.5-1l.5 1l.5 0l.5 1l.5-1l.5 1l.5-1l.5 1l18.5 0l.5 1l.5-1l.5 1l.5-1l.5 1l.5-1l.5 1l.5-1l.5 1l.5-1l.5 1l.5-1l.5 1l.5-1l.5 1l.5-1l.5 1l.5-1l.5 1l.5-1l.5 1l.5-1l.5 1l.5-1l.5 1l.5-1l.5 1l.5-1l.5 1l.5-1l.5 1l.5-1l.5 1l.5-1l.5 1l.5-1l.5 1l.5-1l.5 1l.5-1l.5 1l.5-1l.5 1l.5-1l.5 1l.5-1l1 0l.5 1l.5-1l3.5 0l.5-1l.5 1l.5-1l1.5 0l.5-1l.5 0l.5-1l.5 0l.5-1l.5 0l.5-1l.5-1l.5-1l.5-2l.5-1l.5-3l.5-3l.5-3l.5-3l.5-3l.5-4l.5-4l.5-1l.5-2l.3-1l.2 3l.5 2l.5 6l.5 6l.5 6l.5 3l.5 4l.5 2l.5 2l.5 0l.5 1l.5 1l.5 1l.5-1l.5 1l.5 0l.5 1l.5-1l.5 1l8.5 0l.5 1l.5-1l.5 1l.5-1l.5 1l.5-1l.5 1l.5-1l.5 1l.5-1l.5 1l.5-1l.5 1l.5-1l.5 1l.5-1l.5 1l.5-1l.5 1l.5-1l.5 1l.5-1l.5 1l.5-1l.5 1l.5-1l.5 1l.5-1l.5 1l.5-1l.5 1l.5-1l.5 1l.5-1l.5 1l.5-1l.5 1l.5-1l.5 1l.5-1l.5 1l22 0l.5-1l.5 1l.5-1l.5 1l.5-1l.5 1l.5-1l.5 1l.5-1l3.5 0l.5-1l1.5 0l.5-1l1.5 0l.5-1l.5 0l.5-1l.5-1l.5-1l.5-1l.5-2l.5-1l.5-2l.5-2l.5-2l.5-3l.5-4l.5-3l.5-3l.5-4l.5-4l.5-5l.5-12l.4-10l.1 0l.5 18l.5 12l.5 8l.5 5l.5 7l.5 3l.5 3l.5 2l.5 2l.5 1l.5 1l.5 1l.5 1l.5-1l.5 1l.5 0l.5 1l2.5 0l.5 1l.5-1l.5 1l.5-1l.5 1l8.5 0l.5 1l.5-1l3 0l.5 1l.5-1l.5 1l.5-1l.5 1l.5-1l.5 1l.5-1l.5 1l.5-1l.5 1l.5-1l.5 1l.5-1l.5 1l.5-1l.5 1l.5-1l.5 1l.5-1l.5 1l.5-1l.5 1l13 0l.5-1l.5 1l.5-1l.5 1l.5-1l.5 1l.5-1l.5 1l.5-1l.5 1l.5-1l.5 1l.5-1l.5 1l.5-1l.5 1l.5-1l.5 1l.5-1l.5 1l.5-1l8.5 0l.5-1l.5 1l.5-1l.5 1l.5-1l.5 1l.5-1l3.5 0l.5-1l.5 1l.5-1l.5 0l.5-1l.5 1l.5-1l.5 0l.5-1l.5 0l.5-1l.5 0l.5-1l.5-1l.5-1l.5-1l.5-2l.5-2l.5-2l.5-3l.5-3l.5-5l.5-5l.5-6l.5-7l.5-8l.5-10l.5-11l.5-17l.4-16l.1 1l.5 23l.5 16l.5 8l.5 3l.5 14l.5 11l.5 7l.5 6l.5 4l.5 3l.5 2l.5 1l.5 2l.5 0l.5 1l.5 0l.5 1l1.5 0l.5 1l.5-1l.5 1l.5-1l.5 1l.5-1l.5 1l.5-1l2.5 0l.5-1l.5 1l.5-1l1.5 0l.5-1l1.5 0l.5-1l.5 1l.5-2l.5-1l.5-1l.5 0l.5-2l.5 0l.5-2l.5-1l.5-4l.5-1l.5-3l.5-3l.5-4l.5-5l.5-7l.5-8l.5-10l.5-10l.5-17l.5-17l.5-20l.5-21l.5-31l.5-52l.2-14l.3 19l.5 43l.5 22l.5 9l.5-2l.5-13l.5-19l.5-26l.5-30l.5-49l.5-80l.1-6l.4 42l.5 50l.5 21l.5 2l.5 39l.5 23l.5-3l.2 0l.3 28l.5 54l.5 33l.5 25l.5 17l.5 11l.5 8l.5 4l.5 5l.5 2l.5 2l.5 1l.5 2l.5 0l.5 1l.5 0l.5 2l.5-1l.5 1l1.5 0l.5 1l.5-1l.5 1l3 0l.5 1l.5 0l.5-1l.5 1l.5-1l.5 1l.5-1l.5 1l.5-1l.5 1l.5-1l.5 1l.5-1l.5 1l.5-1l.5 1l.5-1l.5 1l.5-1l.5 1l.5-1l.5 1l.5-1l.5 1l.5-1l.5 1l.5-1l.5 1l.5-1l.5 1l.5-1l.5 1l.5-1l.5 1l.5-1l.5 1l.5-1l.5 1l.5-1l.5 1l.5-1l.5 1l.5-1l.5 1l.5-1l.5 1l.5-1l.5 1l.5-1l.5 1l.5-1l.5 1l.5-1l.5 1l.5-1l.5 1l.5-1l.5 1l.5-1l.5 1l.5-1l8.5 0l.5-1l.5 1l.5-1l.5 1l.5-1l2.5 0l.5-1l1 0l.5-1l1.5 0l.5-1l.5-1l.5 0l.5-1l.5 0l.5-2l.5 0l.5-2l.5-1l.5-3l.5-2l.5-3l.5-4l.5-3l.5-5l.5-6l.5-6l.5-8l.5-7l.5-9l.5-9l.5-14l.5-28l.1-2l.4 22l.5 26l.5 18l.5 13l.5 12l.5 6l.5 7l.5 3l.5 4l.5 2l.5 1l.5 1l.5 1l.5 0l.5 1l1.5 0l.5 1l.5-1l.5 1l.5 0l.5-1l1 0l.5-1l.5 0l.5-1l.5 0l.5-1l.5 0l.5-2l.5-1l.5-2l.5-1l.5-2l.5-2l.5-4l.5-3l.5-5l.5-4l.5-6l.5-4l.5-6l.5-8l.5-19l.2-4l.3 9l.5 20l.5 12l.5 10l.5 7l.5 6l.5 3l.5 4l.5 1l.5 3l.5 0l.5 1l.5 0l.5 1l.5 1l3 0l.5 1l.5-1l.5 1l.5-1l.5 1l.5-1l.5 1l.5-1l.5 1l.5-1l.5 1l.5-1l.5 1l.5-1l.5 1l.5-1l.5 1l.5-1l.5 1l.5-1l.5 1l.5-1l.5 1l.5-1l.5 1l.5-1l.5 1l.5-1l.5 1l.5-1l.5 1l.5-1l.5 1l.5-1l.5 1l.5-1l.5 1l.5-1l.5 1l.5-1l.5 1l.5-1l.5 1l.5-1l.5 1l.5-1l8.5 0l.5-1l.5 1l.5-1l.5 1l.5-1l.5 1l.5-1l2.5 0l.5-1l.5 1l.5-1l.5 0l.5-1l.5 1l.5-1l1.5 0l.5-1l.5 1l.5-2l.5 1l.5-2l.5 0l.5-1l.5-1l.5-1l.5-1l.5-1l.5-2l.5-1l.5-2l.5-3l.5-1l.5-4l.5-3l.5-4l.5-4l.5-7l.5-6l.5-9l.5-7l.5-13l.5-11l.5-14l.5-17l.5-15l.5-16l.5-18l.5-21l.5-38l.5-59l.5 67l.5 51l.5 37l.5 30l.5 24l.5 19l.5 13l.5 10l.5 7l.5 7l.5 3l.5 5l.5 2l.5 2l.5 1l.5 2l.5 1l.5 1l.5 0l.5 1l.5-1l.5 2l.5 0l.5 1l.5-1l.5 1l1.5 0l.5 1l.5-1l.5 1l.5-1l.5 1l12.5 0l.5 1l.5-1l.5 1l.5-1l.5 1l.5-1l.5 1l.5-1l.5 1l.5-1l.5 1l.5-1l.5 1l.5-1l.5 1l.5-1l.5 1l.5-1l.5 1l.5-1l.5 1l.5-1l.5 1l.5-1l.5 1l.5-1l.5 1l.5-1l.5 1l.5-1l.5 1l.5-1l.5 1l.5-1l.5 1l.5-1l.5 1l.5-1l13.5 0l.5-1l.5 1l.5-1l.5 1l.5-1l1.5 0l.5-1l.5 1l.5-1l1 0l.5-1l1 0l.5-1l.5-1l.5-1l.5 0l.5-2l.5-1l.5-2l.5-2l.5-3l.5-2l.5-4l.5-3l.5-5l.5-5l.5-6l.5-6l.5-6l.5-11l.5-17l.5 20l.5 16l.5 11l.5 9l.5 7l.5 4l.5 3l.5 3l.5 3l.5 1l.5 1l.5-1l.5 2l.5 0l.5 1l1.5 0l.5 1l.5-1l.5 1l15 0l.5-1l.5 1l.5-1l.5 1l.5-1l1.5 0l.5-1l.5 1l.5-1l.5 0l.5-1l1 0l.5-1l.5-1l.5 0l.5-2l.5 0l.5-2l.5-1l.5-3l.5-1l.5-3l.5-4l.5-3l.5-4l.5-5l.5-4l.5-5l.5-12l.3-6l.2 3l.5 15l.5 12l.5 8l.5 5l.5 5l.5 3l.5 2l.5 2l.5 1l.5 1l.5 0l.5 1l.5 0l.5 1l7 0l.5-1l1.5 0l.5-1l.5 0l.5-1l.5 0l.5-1l.5-1l.5-2l.5-1l.5-2l.5-1l.5-3l.5-2l.5-3l.5-3l.5-4l.5-4l.5-5l.5-12l.1 0l.4 8l.5 11l.5 7l.5 7l.5 3l.5 3l.5 3l.5 1l.5 2l.5 0l.5 1l.5 0l.5 1l.5-1l.5 1l3 0l.5-1l.5 1l.5-1l.5 1l.5 0l.5-1l1 0l.5-1l.5 0l.5-1l1.5 0l.5-1l.5 0l.5-1l.5 0l.5-1l2 0l.5 1l.5 1l.5 0l.5 1l.5 1l.5 1l.5 0l.5 1l1.5 0l.5 1l.5-1l.5 1l10 0l.5-1l.5 1l.5-1l.5 1l.5-1l1.5 0l.5-1l.5 1l.5-1l1.5 0l.5-1l.5 1l.5-1l.5 1l.5-1l.5 1l.5 0l.5 1l.5-1l.5 1l.5 0l.5 1l.5-1l.5 1l.5-1l.5 1l2.5 0l.5 1l.5-1l.5 1l.5-1l.5 1l.5-1l.5 1l.5-1l.5 1l.5-1l.5 1l.5-1l.5 1l.5-1l.5 1l.5-1l.5 1l.5-1l.5 1l.5-1l.5 1l.5-1l.5 1l.5-1l.5 1l.5-1l.5 1l.5-1l.5 1l.5-1l.5 1l.5-1l.5 1l.5-1l.5 1l.5-1l.5 1l.5-1l.5 1l.5-1l.5 1l.5-1l.5 1l.5-1l.5 1l.5-1l.5 1l.5-1l.5 1l.5-1l.5 1l.5-1l.5 1l.5-1l.5 1l.5-1l.5 1l.5-1l.5 1l.5-1l.5 1l.5-1l.5 1l.5-1l.5 1l.5-1l.5 1l.5-1l.5 1l.5-1l.5 1l.5-1l.5 1l.5-1l.5 1l.5-1l.5 1l.5-1l.5 1l.5-1l.5 1l.5-1l.5 1l.5-1l.5 1l.5-1l.5 1l.5-1l.5 1l.5-1l.5 1l.5-1l4.5 0l.5-1l1.5 0l.5-1l1.5 0l.5-2l.5-1l.5-2l.5-1l.5-3l.5-2l.5-3l.5-4l.5-4l.5-4l.5-10l.3-4l.2 2l.5 13l.5 8l.5 6l.5 5l.5 1l.5 2l.5 2l.5-1l.5 1l.5 1l.5-1l1 0l.5-1l.5 0l.5-1l3 0l.5 2l.5 0l.5 1l.5 1l1 0l.5 1l1.5 0l.5 1l.5-1l.5 1l.5-1l.5 1l.5-1l.5 1l16 0l.5-1l.5 1l.5-1l.5 1l.5-1l.5 1l.5-1l3.5 0l.5-1l1.5 0l.5-1l.5 0l.5-1l.5 1l.5-1l.5 0l.5-1l2 0l.5 1l.5 1l.5 0l.5 1l.5 0l.5 1l1.5 0l.5 1l.5-1l.5 1l13 0l.5-1l.5 1l.5-1l.5 1l.5-1l1.5 0l.5-1l.5 1l.5-1l.5 0l.5-1l1.5 0l.5-1l.5 0l.5-1l.5 0l.5-1l.5 0l.5-1l1.5 0l.5 1l.5 0l.5 1l.5-1l.5 2l1.5 0l.5-1l.5-2l.5 0l.5-2l.5-1l.5-2l1 0l.5 2l.5 3l.5 2l.5 2l.5 1l.5 1l.5 0l.5 1l2.5 0l.5 1l.5-1l.5 1l.5-1l.5 1l.5-1l.5 1l.5-1l.5 1l.5-1l.5 1l.5-1l.5 1l.5-1l.5 1l.5-1l.5 2l.5-2l.5 1l31 0l.5-1l.5 1l.5-1l.5 1l.5-1l.5 1l.5-1l.5 1l.5-1l2.5 0l.5-1l.5 1l.5-1l1.5 0l.5-1l.5 1l.5-1l.5 0l.5-1l.5 1l.5-2l.5 2l.5-1l.5 1l.5-1l.5 1l.5 0l.5 1l.5 0l.5 1l1.5 0l.5 1l.5-1l.5 1l.5-1l.5 1l15 0l.5-1l.5 1l.5-1l.5 1l.5-1l.5 1l.5-1l3.5 0l.5-1l1.5 0l.5-1l1 0l.5-1l.5-2l.5 0l.5-1l.5-1l.5-2l.5-2l.5-2l.5-3l.5-3l.5-3l.5-4l.5-4l.5-4l.5-6l.5-12l.2-4l.3 6l.5 15l.5 8l.5 8l.5 6l.5 3l.5 3l.5 2l.5 1l.5 2l1 0l.5 1l.5 1l6.5 0l.5-1l.5 1l.5 0l.5-1l1.5 0l.5-1l.5 0l.5-1l.5 0l.5-1l1.5 0l.5-1l1 0l.5 1l1 0l.5 2l.5 0l.5 1l.5 0l.5 1l.5 0l.5 1l.5-1l.5 1l5.5 0l.5 1l.5-1l.5 1l.5-1l.5 1l.5-1l.5 1l.5-1l.5 1l.5-1l.5 1l.5-1l.5 1l.5-1l.5 1l.5-1l.5 1l.5-1l.5 1l.5-1l.5 1l.5-1l.5 1l.5-1l.5 1l.5-1l.5 1l.5-1l.5 1l.5-1l.5 1l.5-1l.5 1l.5-1l.5 1l.5-1l.5 1l.5-1l.5 1l.5-1l.5 1l.5-1l.5 1l.5-1l.5 1l.5-1l8.5 0l.5 1l.5-1l.5 1l.5-1l.5 1l.5-1l.5 1l.5-1l.5 1l.5-1l.5 1l.5-1l.5 1l.5-1l.5 1l6 0l.5-1l.5 1l.5-1l.5 1l.5-1l.5 1l.5-1l.5 1l.5-1l.5 1l.5-1l.5 1l.5-1l.5 1l.5-1l2.5 0l.5-1l.5 1l.5-1l.5 1l.5-1l.5 0l.5 1l.5-1l.5 1l1.5 0l.5 1l.5-1l.5 1l.5-1l.5 1l14 0l.5-1l.5 1l.5-1l.5 1l.5-1l.5 1l.5-1l.5 1l.5-1l3.5 0l.5-1l2 0l.5-1l.5-1l.5 0l.5-1l.5-1l.5-1l.5-1l.5-1l.5-1l.5-1l.5-1l.5-1l.5-1l.5 1l.5 0l.5 1l.5 3l.5 1l.5 1l.5 2l.5 2l.5 0l.5 1l.5 0l.5 1l1.5 0l.5 1l.5-1l.5 1l13.5 0l.5 1l.5-1l.5 1l.5-1l.5 1l.5-1l.5 1l.5-1l.5 1l.5-1l.5 1l.5-1l.5 1l.5-1l.5 1l.5-1l.5 1l.5-1l.5 1l.5-1l.5 1l.5-1l.5 1l.5-1l.5 1l.5-1l.5 1l.5-1l.5 1l.5-1l.5 1l.5-1l.5 1l.5-1l.5 1l.5-1l.5 1l.5-1l.5 1l.5-1l.5 1l.5-1l.5 1l.5-1l.5 1l.5-1l.5 1l.5-1l.5 1l.5-1l.5 1l.5-1l.5 1l.5-1l6.5 0l.5-1l.5 1l.5-1l.5 1l.5-1l2 0l.5-1l.5-1l1.5 0l.5-1l.5 0l.5-1l2.5 0l.5 1l.5 0l.5 1l.5 1l.5 1l1.5 0l.5 1l2.5 0l.5 1l.5-1l.5 1l.5-1l.5 1l.5-1l.5 1l.5-1l.5 1l.5-1l.5 1l.5-1l.5 1l.5-1l.5 1l.5-1l.5 1l16.5 0l.5-1l.5 1l11.5 0l.5-1l.5 1l.5-1l.5 1l.5-1l.5 1l.5-1l.5 1l.5-1l.5 1l.5-1l.5 1l.5-1l.5 1l.5-1l.5 1l.5-1l4.5 0l.5-1l.5 1l.5-1l1.5 0l.5-1l.5 1l.5-1l.5 0l.5-1l.5 1l.5-1l.5 0l.5-1l.5 0l.5-1l.5 0l.5-2l.5 1l.5-1l.5-1l.5-1l.5-1l1 0l.5-1l.5 0l.5-1l1.5 0l.5 1l.5 0l.5 2l.5 0l.5 2l.5 1l.5 1l.5 1l.5 1l.5 0l.5 1l.5 0l.5 1l.5 0l.5 1l1.5 0l.5 1l3.5 0l.5 1l.5-1l.5 1l.5-1l.5 1l.5-1l.5 1l.5-1l.5 1l.5-1l.5 1l.5-1l.5 1l.5-1l2.5 0l.5-1l.5 1l.5-1l2.2 0l.3 1l.5-1l.5 0l.5 1l.5 0l.5 1l.5-1l.5 1l12 0l.5-1l.5 1l.5-1l1.5 0l.5-1l.5 0l.5-1l.5 0l.5-1l.5 0l.5-1l.5-1l.5-2l.5-1l.5-2l.5-1l.5-2l.5-1l.5-2l.5-1l.3 0l.2 1l.5 2l.5 3l.5 1l.5 4l.5 2l.5 2l.5 1l.5 1l.5 0l.5 1l1.5 0l.5 1l.5-1l.5 1l.5-1l.5 1l14.5 0l.5 1l.5-1l.5 1l.5-1l.5 1l.5-1l.5 1l.5-1l.5 1l.5-1l.5 1l.5-1l.5 1l.5-1l.5 1l.5-1l.5 1l.5-1l.5 1l.5-1l.5 1l.5-1l.5 1l.5-1l.5 1l.5-1"/>
<path fill="none" stroke="#ff8000" stroke-width="2" shape-rendering="crispEdges" d="M179.9 731l.5 1l.5-1l.5 1l.5-1l.5 1l.5-1l.5 1l30 0l.5-1l.5 1l.5-1l1.5 0l.5-1l.5 0l.5-1l.5 0l.5-1l.5-1l.5 0l.5-2l.5-2l.5-2l.5-3l.5-2l.5-4l.5-2l.5-3l.5-2l.5-1l.5 2l.5 5l.5 6l.5 4l.5 4l.5 2l.5 2l.5 1l.5 1l.5 0l.5 1l.5 0l.5 1l.5-1l.5 1l3.5 0l.5 1l.5-1l.5 1l.5-1l.5 1l.5-1l.5 1l.5-1l.5 1l.5-1l.5 1l.5-1l.5 1l.5-1l.5 1l23.5 0l.5 1l.5-1l.5 1l.5-1l.5 1l.5-1l.5 1l.5-1l.5 1l.5-1l8.5 0l.5-1l.5 1l.5-1l.5 0l.5-1l.5 1l.5-1l.5 0l.5-1l.5 0l.5-2l.5 0l.5-2l.5-1l.5-2l.5-1l.5-3l.5-2l.5-4l.5-2l.5-4l.1 0l.4-2l.5-4l.5-2l.5-2l.5-2l.6 0l.4 2l.5 8l.5 8l.5 6l.5 5l.5 3l.5 2l.5 1l.5 2l.5 0l.5 1l1.5 0l.5 1l5.5 0l.5 1l.5-1l.5 1l.5-1l.5 1l.5-1l.5 1l.5-1l.5 1l.5-1l.5 1l.5-1l.5 1l.5-1l.5 1l.5-1l.5 1l.5-1l.5 1l26.5 0l.5 1l.5-1l.5 1l.5-1l.5 1l.5-1l.5 1l.5-1l1 0l.5 1l.5-1l.5 1l.5-1l.5 1l.5-1l8.5 0l.5-1l.5 1l.5-2l.5 1l2 0l.5-1l.5 0l.5-1l1.5 0l.5-1l.5-1l.5-1l.5-1l.5-1l.5-1l.5-2l.5-2l.5-2l.5-3l.5-2l.5-3l.5-5l.5-5l.5-4l.5-5l.5-5l.5-6l.5-13l.4-13l.1 0l.5 23l.5 12l.5 11l.5 6l.5 8l.5 5l.5 4l.5 2l.5 3l.5 1l.5 1l.5 1l.5 1l.5 0l.5 1l1.5 0l.5 1l.5-1l.5 1l3.5 0l.5 1l.5-1l.5 1l.5-1l.5 1l.5-1l.5 1l.5-1l.5 1l.5-1l.5 1l10 0l.5-1l.5 1l.5-1l.5 1l.5-1l.5 1l.5-1l.5 1l.5-1l.5 1l.5-1l.5 1l.5-1l.5 1l.5-1l.5 1l.5-1l.5 1l.5-1l.5 1l.5-1l.5 1l.5-1l.5 1l.5-1l15.5 0l.5-1l.5 1l.5-1l.5 1l.5-1l.5 1l.5-1l.5 1l.5-1l.5 1l.5-1l.5 1l.5-1l6.5 0l.5-1l.5 1l.5-1l.5 1l.5-1l.5 1l.5-1l1.5 0l.5-1l.5 1l.5-1l1 0l.5-1l2 0l.5-1l.5 0l.5-1l.5-1l.5-2l.5-1l.5 0l.5-1l.5-3l.5-1l.5-3l.5-3l.5-4l.5-4l.5-5l.5-6l.5-7l.5-6l.5-8l.5-6l.5-13l.5-26l.1-1l.4 18l.5 24l.5 17l.5 11l.5 9l.5 7l.5 5l.5 3l.5 3l.5 1l.5 2l.5 0l.5 2l1.5 0l.5 1l6 0l.5-1l.5 1l.5-1l1.5 0l.5-1l.5 1l.5-2l1.5 0l.5-1l.5-1l.5-1l.5 0l.5-1l.5-1l.5-1l.5-1l.5-2l.5-1l.5-3l.5-2l.5-2l.5-4l.5-5l.5-3l.5-7l.5-7l.5-9l.5-10l.5-14l.5-14l.5-15l.5-20l.5-21l.5-25l.5-47l.3-25l.2 6l.5 42l.5 20l.5 11l.5 0l.5-6l.5-12l.5-14l.5-19l.5-20l.5-41l.5-82l.1-5l.4 63l.5 76l.5 51l.5 41l.5 33l.5 24l.5 18l.5 15l.5 10l.5 8l.5 6l.5 4l.5 5l.5 1l.5 4l.5 0l.5 2l.5 1l.5 1l.5 0l.5 1l.5 0l.5 1l.5 0l.5 1l.5 0l.5 1l.5-1l.5 1l1.5 0l.5 1l.5-1l.5 1l.5-1l.5 1l.5-1l.5 1l37 0l.5-1l.5 1l.5-1l.5 1l.5-1l2.5 0l.5-1l.5 1l.5-1l1.5 0l.5-1l.5 0l.5-1l.5-1l.5-1l.5 1l.5-2l.5 0l.5-2l.5 0l.5-2l.5-2l.5-2l.5-3l.5-3l.5-4l.5-5l.5-4l.5-8l.5-6l.5-10l.5-9l.5-10l.5-9l.5-18l.5-31l.1-2l.4 25l.5 31l.5 20l.5 16l.5 12l.5 9l.5 6l.5 3l.5 5l.5 1l.5 2l.5 1l.5 1l.5 1l.5 1l5 0l.5-1l.5 0l.5-1l.5 0l.5-2l.5 0l.5-2l.5-1l.5-2l.5-2l.5-3l.5-2l.5-4l.5-4l.5-5l.5-5l.5-6l.5-7l.5-6l.5-12l.5-18l.5 20l.5 16l.5 13l.5 10l.5 8l.5 4l.5 4l.5 3l.5 1l.5 2l.5 1l.5 1l.5 1l.5 0l.5 1l.5-1l.5 1l1.5 0l.5 1l.5-1l.5 1l.5-1l.5 1l.5-1l.5 1l.5-1l.5 1l.5-1l.5 1l.5-1l.5 1l.5-1l.5 1l.5-1l.5 1l.5-1l.5 1l.5-1l.5 1l.5-1l.5 1l.5-1l.5 1l.5-1l.5 1l.5-1l.5 1l.5-1l.5 1l.5-1l.5 1l.5-1l.5 1l.5-1l.5 1l.5-1l1 0l.5 1l.5-1l8.5 0l.5-1l.5 1l.5-1l.5 1l.5-1l.5 1l.5-1l3.5 0l.5-1l.5 1l.5-1l1 0l.5 1l.5-2l1.5 0l.5-1l1.5 0l.5-1l.5 0l.5-1l.5 0l.5-2l.5 0l.5-1l.5 0l.5-2l.5-1l.5-2l.5-1l.5-2l.5-2l.5-3l.5-4l.5-3l.5-4l.5-5l.5-5l.5-9l.5-4l.5-12l.5-11l.5-13l.5-14l.5-17l.5-19l.5-18l.5-17l.5-23l.5-27l.5-64l.3-32l.2 19l.5 82l.5 50l.5 38l.5 30l.5 26l.5 18l.5 14l.5 10l.5 8l.5 6l.5 4l.5 3l.5 3l.5 2l.5 2l.5 1l.5 1l.5 0l.5 2l.5 0l.5 1l1 0l.5-1l.5 2l2.5 0l.5 1l.5-1l.5 1l.5-1l.5 1l13.5 0l.5 1l.5-1l.5 1l.5-1l.5 1l.5-1l.5 1l.5-1l.5 1l.5-1l.5 1l.5-1l.5 1l.5-1l.5 1l.5-1l.5 1l.5-1l.5 1l.5-1l.5 1l.5-1l.5 1l.5-1l.5 1l.5-1l.5 1l.5-1l13.5 0l.5-1l.5 1l.5-1l.5 1l.5-1l1.5 0l.5-1l.5 1l.5-1l.5 0l.5-1l1.5 0l.5-1l.5-1l.5-1l.5 0l.5-2l.5-1l.5-2l.5-1l.5-3l.5-2l.5-3l.5-3l.5-3l.5-6l.5-7l.3-4l.2 0l.5 3l.5 1l.5-1l.5-2l.5-4l.5-5l.5-6l.5-8l.5-20l.1-1l.4 15l.5 19l.5 14l.5 9l.5 8l.5 6l.5 4l.5 2l.5 3l.5 1l.5 1l.5 1l.5 1l.5 0l.5 1l1.5 0l.5 1l.5-1l.5 1l.5-1l.5 1l7 0l.5-1l.5 1l.5-1l.5 1l.5-1l.5 1l.5-1l2.5 0l.5-1l1.5 0l.5-1l1.5 0l.5-1l.5 0l.5-1l.5-1l.5-2l.5 1l.5-2l.5 0l.5-2l.5-2l.5-1l.5-1l.5-2l.5-1l.5-3l.5-1l.5-3l.5-2l.5-2l.1-1l.4-2l.5-3l.5-3l.5-2l.5-5l.5-5l.5-12l.3-5l.2 4l.5 20l.5 12l.5 10l.5 6l.5 5l.5 2l.5 2l.5 2l.5 1l.5 0l.5 1l.5 0l.5 1l2.5 0l.5 1l.5-1l.5 1l.5-1l.5 1l.5-1l2.5 0l.5-1l.5 1l.5-1l.5 0l.5-1l.5 0l.5-1l.5 0l.5-2l.5 0l.5-2l.5-1l.5-2l.5-2l.5-2l.5-4l.5-4l.5-2l.5-4l.5-3l.5-8l.5-11l.5 12l.5 11l.5 6l.5 6l.5 4l.5 4l.5 2l.5 2l.5 0l.5 2l.5 0l.5 1l1.5 0l.5 1l.5-1l.5 1l.5-1l.5 1l.5-1l.5 1l.5-1l.5 1l.5-1l2.5 0l.5-1l1.5 0l.5-1l.5 0l.5-1l.5 0l.5-1l.5 0l.5-1l.5 0l.5-1l.5 1l.5-1l.5 0l.5-1l.3 1l.2-1l.5 1l.5 0l.5 2l.5 0l.5 1l.5 1l.5 1l.5 0l.5 1l1.5 0l.5 1l3.5 0l.5 1l.5-1l.5 1l.5-1l.5 1l.5-1l.5 1l.5-1l4.5 0l.5-1l.5 1l.5-1l1.5 0l.5-1l4 0l.5 1l.5 0l.5 1l1.5 0l.5 1l.5-1l.5 1l.5-1l.5 1l.5-1l.5 1l19 0l.5-1l.5 1l.5-1l.5 1l.5-1l.5 1l.5-1l.5 1l.5-1l.5 1l.5-1l.5 1l.5-1l2 0l.5-1l.5 0l.5 1l.5-1l1.5 0l.5-1l.5 1l.5-1l.5 0l.5-1l.5 1l.5-1l2.5 0l.5 1l.5 0l.5 1l.5 0l.5 1l2.5 0l.5 1l.5-1l.5 1l.5-1l.5 1l.5-1l.5 1l.5-1l3.5 0l.5-1l1.5 0l.5-1l.5 0l.5-1l.5 0l.5-2l.5 0l.5-2l.5-1l.5-2l.5-2l.5-3l.5-2l.5-3l.5-3l.5-4l.5-4l.5-9l.4-7l.1 2l.5 12l.5 8l.5 7l.5 4l.5 4l.5 2l.5 2l.5 1l.5 0l.5 1l.5 1l.5-2l.5 0l.5-1l.5 0l.5-1l.5 1l.5-1l1 0l.5 1l.5 1l.5 1l.5 2l.5 0l.5 1l.5 0l.5 1l.5 0l.5 1l2.5 0l.5 1l.5-1l.5 1l.5-1l.5 1l.5-1l.5 1l.5-1l.5 1l9 0l.5-1l.5 1l2 0l.5-1l.5 1l.5-1l.5 1l.5-1l.5 1l.5-1l.5 1l.5-1l2.5 0l.5-1l1.5 0l.5-1l.5 0l.5-1l.5 1l.5-1l.5 0l.5-1l.5-1l.5 0l.5-1l1 0l.5-1l.5 0l.5 1l.5 1l.5 1l.5 1l.5 1l.5 0l.5 1l.5 0l.5 1l.5 0l.5 1l.5-1l.5 1l.5-1l.5 1l12 0l.5-1l.5 1l.5-1l1.5 0l.5-1l1.5 0l.5-1l.5 0l.5-1l.5 0l.5-2l.5 0l.5-1l.5 0l.5-1l1.5 0l.5 1l.5 1l.5 1l.5 1l.5 1l.5-1l.5 2l.5-1l.5 1l.5-1l.5 0l.5-1l.5 0l.5-1l.5-1l.5-2l.5-2l.5-2l.5-1l.5-1l.5 0l.5 3l.5 2l.5 4l.5 1l.5 2l.5 0l.5 1l.5 0l.5 1l.5 0l.5 1l.5-1l.5 1l.5-1l.5 1l.5-1l.5 1l39 0l.5-1l.5 1l.5-1l.5 1l.5-1l2.5 0l.5-1l.5 1l.5-1l2 0l.5-1l.5-1l1.5 0l.5-1l.5 1l.5-2l.3 1l.2 0l.5 1l.5 0l.5 1l.5 0l.5 1l.5 0l.5 1l1.5 0l.5 1l.5-1l.5 1l12 0l.5 1l.5-1l6 0l.5-1l.5 1l.5-1l1.5 0l.5-1l.5 1l.5-1l.5 0l.5-1l.5 0l.5-1l.5 0l.5-1l.5-1l.5-1l.5-1l.5-2l.5-2l.5-2l.5-3l.5-2l.5-4l.5-5l.5-3l.5-5l.5-5l.5-12l.4-9l.1 1l.5 16l.5 12l.5 9l.5 6l.5 5l.5 3l.5 3l.5 2l.5 1l.5 1l.5 0l.5 1l.5 1l1.5 0l.5 1l.5-1l.5 1l.5-1l.5 1l.5-1l.5 1l.5-1l1.5 0l.5-1l.5 1l.5-1l.5 0l.5-1l.5 1l.5-1l1 0l.5-1l.5-1l.5 0l.5-2l.5 1l.5-1l.5 1l.5-1l.5 0l.5 1l.5 0l.5 2l.5 0l.5 1l.5 0l.5 1l.5 1l1 0l.5 1l1.5 0l.5 1l.5-1l.5 1l.5-1l.5 1l18.5 0l.5 1l.5-1l.5 1l.5-1l.5 1l.5-1l.5 1l.5-1l.5 1l.5-1l.5 1l.5-1l.5 1l.5-1l.5 1l.5-1l.5 1l.5-1l.5 1l.5-1l.5 1l.5-1l.5 1l.5-1l.5 1l.5-1l.5 1l.5-1l.5 1l.5-1l.5 1l.5-1l.5 1l.5-1l.5 1l.5-1l.5 1l.5-1l.5 1l.5-1l.5 1l.5-1l.5 1l.5-1l.5 1l.5-1l.5 1l.5-1l7.5 0l.5-1l.5 1l.5-1l2.5 0l.5-1l1.5 0l.5-1l.5 1l.5-1l2 0l.5 1l.5-1l.5 1l.5 0l.5 1l.5 0l.5 1l.5-1l.5 1l1 0l.5 1l.5-1l.5 0l.5 1l.5-1l.5 1l.5-1l.5 1l.5-1l.5 1l.5-1l.5 1l.5-1l.5 1l.5-1l.5 1l.5-1l.5 1l.5-1l.5 1l.5-1l.5 1l.5-1l.5 1l.5-1l.5 1l.5-1l.5 1l.5-1l.5 1l.5-1l.5 1l.5-1l4.5 0l.5-1l.5 1l.5-1l1.5 0l.5-1l.5 0l.5-1l.5 0l.5-1l.5 0l.5-2l.5-1l.5-1l.5 0l.5-2l.5-1l.5-3l.5 0l.5-1l.5-1l1 0l.5 2l.5 2l.5 2l.5 2l.5 3l.5 1l.5 1l.5 1l.5 1l.5 0l.5 1l2.5 0l.5 1l.5-1l.5 1l.5-1l.5 0l.5 1l43.5 0l.5-1l.5 1l.5-1l.5 1l.5-1l1.5 0l.5-1l.5 1l.5-1l.5 0l.5-1l.5 0l.5-1l.5 0l.5-1l.5-1l.5-1l.5 0l.5-1l.5 0l.5-1l.5 0l.5 1l.5 1l.5 2l.5 1l.5 1l.5 0l.5 1l.5 1l1 0l.5 1l4.5 0l.5 1l.5-1l.5 1l.5-1l.5 1l.5-1l.5 1l.5-1l.5 1l.5-1l.5 1l.5-1l.5 1l.5-1l.5 1l.5-1l.5 1l.5-1l.5 1l.5-1l.5 1l.5-1l.5 1l.5-1l.5 1l.5-1l.5 1l.5-1l.5 1l.5-1l.5 1l.5-1l.5 1l.5-1l.5 1l.5-1l.5 1l.5-1l.5 1l.5-1l.5 1l.5-1l.5 1l.5-1l.5 1l.5-1l.5 1l.5-1l.5 1l.5-1l.5 1l.5-1l.5 1l.5-1l.5 1l.5-1l.5 1l.5-1l.5 1l.5-1l.5 1l.5-1l.5 1l.5-1l.5 1l.5-1l.5 1l.5-1l.5 1l.5-1l.5 1l.5-1l7.5 0l.5-1l.5 1l.5-1l2.5 0l.5-1l.5 1l.5-1l.5 0l.5-1l.5 1l.5-1l.5 0l.5-1l.5 0l.5-1l.5 0l.5-1l.5 0l.5-1l.5 0l.5-1l.5 0l.5-2l.5 0l.5-1l.5 0l.5-2l.5 0l.5-1l1 0l.5-2l.5 1l.3 0l.2-1l.5 1l.5 1l.5 1l.5 1l.5 2l.5 1l.5 2l.5 1l.5 1l.5 1l.5 1l.5 0l.5 1l.5 0l.5 1l1.5 0l.5 1l2.5 0l.5 1l.5-1l.5 1l.5-1l.5 1l.5-1l.5 1l.5-1l.5 1l2 0l.5-1l.5 1l.5-1l.5 1l.5-1l.5 1l.5-1l1.5 0l.5-1l.5 1l.5-1l2 0l.5 1l1.5 0l.5 1l3.5 0l.5 1l.5-1l.5 1l.5-1l.5 1l.5-1l.5 1l.5-1l.5 1l.5-1l.5 1l.5-1l1 0l.5 1l.5-1l2.5 0l.5-1l.5 1l.5-1l.5 0l.5-1l.5 1l.5-1l.5 0l.5-1l.5 0l.5-2l.5 0l.5-2l.5-1l.5-1l.5-2l.5-4l.5 0l.5-3l.5-1l.5-1l.5 0l.5 3l.5 2l.5 6l.5 1l.5 2l.5 2l.5 2l.5 0l.5 1l.5 0l.5 1l.5 0l.5 1l.5-1l.5 1l6.5 0l.5 1l.5-1l.5 1l.5-1l.5 1l.5-1l.5 1l.5-1l.5 1l.5-1l.5 1l.5-1l.5 1l.5-1l.5 1l.5-1l.5 1l.5-1l.5 1l.5-1l.5 1l.5-1l.5 1l.5-1l.5 1l.5-1l.5 1l.5-1l.5 1l.5-1l.5 1l4 0"/>
<path fill="none" stroke="#00e08c" stroke-width="2" shape-rendering="crispEdges" d="M149.8 817l7 0l.5 1l.5-1l1 0l.5 1l.5-1l.5 1l.5-1l.5 1l.5-1l.5 1l.5-1l.5 1l.5-1l.5 1l.5-1l.5 1l.5-1l.5 1l.5-1l.5 1l.5-1l.5 1l.5-1l.5 1l.5-1l.5 1l11 0l.5-1l.5 1l.5-1l.5 1l.5-1l1.5 0l.5-1l1 0l.5-1l.5-1l.5 0l.5-2l.5-1l.5-2l.5-1l.5-3l.5-1l.5-4l.5 0l.4-1l.1 0l.5 1l.5 6l.5 3l.5 4l.5 1l.5 2l.5 0l.5 1l.5 0l.5 1l2.5 0l.5 1l.5-1l.5 1l.5-1l.5 1l.5-1l.5 1l.5-1l3.5 0l.5-1l.5 1l.5-1l.5 0l.5-1l.5 1l.5-1l.5 0l.5-1l.5-1l.5-1l.5 0l.5-2l.5 0l.5-3l.5-2l.5-3l.5-3l.5-3l.5-5l.5-3l.5-3l.5-4l.5 0l.5-2l.5 2l.5 6l.5 7l.5 6l.5 5l.5 3l.5 3l.5 2l.5 2l.5 0l.5 1l.5 0l.5 1l.5 0l.5 1l2.5 0l.5 1l.5-1l.5 1l.5-1l.5 1l.5-1l.5 1l.5-1l.5 1l6 0l.5-1l.5 1l4 0l.5-1l.5 1l.5-1l.5 1l.5-1l3 0l.5-1l.5-1l.5 0l.5-1l.5 0l.5-1l.5 0l.5-1l.5 0l.5-1l.5 0l.5-2l1 0l.5 1l.5 1l.5-1l1.5 0l.5-1l1.1 0l.4 1l.5 1l.5 1l.5 2l.5 1l.5 1l.5 1l.5 1l1.5 0l.5 1l.5-1l.5 1l.5-1l.5 1l10 0l.5 1l.5 0l.5-1l.5 1l.5-1l.5 1l.5-1l.5 1l.5-1l.5 1l.5-1l.5 1l.5-1l.5 1l.5-1l.5 1l.5-1l.5 1l.5-1l.5 1l.5-1l.5 1l.5-1l.5 1l.5-1l.5 1l.5-1l.5 1l.5-1l.5 1l.5-1l.5 1l.5-1l.5 1l.5-1l.5 1l15 0l.5-1l.5 1l.5-1l.5 1l.5-1l.5 1l.5-1l.5 1l.5-1l.5 1l.5-1l3.5 0l.5-1l1.5 0l.5-1l.5 1l.5-1l.5-1l2 0l.5-1l.5 0l.5-1l.5-1l.5 0l.5-1l.5-1l.5-1l.5-2l.5 0l.5-1l.5-1l.5-1l.5-2l.5-1l.5 0l.5-3l.5-1l.2 0l.3-1l.5-1l.5-1l.5-2l.5-2l.5-2l.5-3l.5-3l.5-3l.5-3l.5-5l.5-4l.5-7l.5-4l.5-3l.5-3l.5-1l.5 0l.5 4l.5 11l.5 11l.5 8l.5 8l.5 6l.5 5l.5 4l.5 3l.5 2l.5 2l.5 2l.5 0l.5 2l.5 0l.5 1l.5 0l.5 1l.5 0l.5 1l.5-1l.5 1l1.5 0l.5 1l.5-1l.5 1l.5-1l.5 1l6.5 0l.5 1l.5-1l.5 1l.5-1l.5 1l.5-1l.5 1l.5-1l.5 1l.5-1l.5 1l.5-1l.5 1l.5-1l.5 1l.5-1l.5 1l.5-1l.5 1l.5-1l.5 1l.5 0l.5-1l2 0l.5-1l.5 1l.5-1l2 0l.5 1l2 0l.5 1l4.5 0l.5 1l.5-1l.5 1l.5-1l.5 1l.5-1l.5 1l.5-1l.5 1l.5-1l.5 1l.5-1l.5 1l.5-1l.5 1l.5-1l.5 1l.5-1l.5 1l.5-1l.5 1l.5-1l.5 1l.5-1l.5 1l.5-1l.5 1l.5-1l.5 1l.5-1l.5 1l.5-1l.5 1l.5-1l8.5 0l.5-1l.5 1l.5-1l.5 1l.5-1l2.5 0l.5-1l.5 1l.5-1l1.5 0l.5-2l.5 1l.5-1l.5 1l.5-2l.5 0l.5-1l.5 0l.5-2l.5 0l.5-2l.5-1l.5-3l.5-1l.5-4l.5-2l.5-5l.5-4l.5-6l.5-4l.5-6l.5-6l.5-10l.5-16l.3-9l.2 6l.5 22l.5 15l.5 10l.5 9l.5 5l.5 5l.5 3l.5 2l.5 1l.5 2l.5 0l.5 1l.5 0l.5 2l.5-2l.5 2l.5-1l.5 0l.5-1l1.5 0l.5-1l1.5 0l.5-1l.5 0l.5-1l.5 0l.5-2l.5 0l.5-2l.5 1l.5-2l.5 0l.5-1l.5-2l.5-1l.5-2l.5-2l.5-1l.5-3l.5-2l.5-4l.5-2l.5-4l.5-3l.5-5l.5-4l.5-7l.5-6l.5-9l.5-9l.5-11l.5-12l.5-16l.5-15l.5-21l.5-19l.5-24l.5-25l.5-25l.5-34l.5-66l.2-18l.3 24l.5 54l.5 30l.5 24l.5 14l.5 7l.5 3l.5-3l.5-4l.2-2l.3-5l.5-2l.5-4l.5-2l.5-1l.5-8l.5-24l.4-26l.1 5l.5 69l.5 48l.5 38l.5 28l.5 22l.5 17l.5 14l.5 9l.5 7l.5 5l.5 6l.5 3l.5 3l.5 2l.5 2l.5 1l.5 2l.5 1l.5 1l.5 0l.5 1l.5 0l.5 1l.5 1l1 0l.5 1l.5-1l.5 1l.5-1l.5 0l.5 1l.5 0l.5-1l.5 1l.5-1l.5 0l.5-1l.5 0l.5-1l.5 0l.5-1l.5 0l.5-1l.5-1l.5-2l.5-1l.5-2l.5-1l.5-1l.5-3l.5-2l.5-1l.5-2l.5-1l.5-2l1 0l.5 2l.5 3l.5 2l.5 4l.5 2l.5 2l.5 1l.5 2l.5 0l.5 1l.5 0l.5 1l.5 0l.5 1l.5 2l.5-1l.5 2l.5 1l.5 1l.5-1l.5 1l.5 0l.5 1l.5-1l.5 1l12 0l.5-1l.5 1l.5-1l.5 1l.5-1l.5 1l.5-1l2.5 0l.5-1l1.5 0l.5-1l1.5 0l.5-1l.5 0l.5-1l.5-1l.5-1l.5 0l.5-2l.5-1l.5-2l.5-1l.5-3l.5-3l.5-3l.5-4l.5-6l.5-4l.5-7l.5-7l.5-10l.5-7l.5-9l.5-12l.5-28l.2-7l.3 14l.5 31l.5 19l.5 15l.5 12l.5 7l.5 6l.5 4l.5 3l.5 2l.5 1l.5 2l.5 0l.5 1l.5-1l.5 1l.5-1l.5 0l.5-1l.5-1l.5 0l.5-2l.5-2l.5-1l.5-2l.5-1l.5-2l.5-1l.2-1l.3 0l.5 1l.5 2l.5 1l.5 1l.5-1l.5-1l.5-2l.5-2l.5-3l.1-1l.4-3l.5-5l.5-6l.5-6l.5-6l.5-6l.5-10l.5-20l.2-6l.3 11l.5 22l.5 16l.5 12l.5 8l.5 6l.5 5l.5 3l.5 2l.5 2l.5 2l.5 0l.5 1l.5 1l1 0l.5 1l6.5 0l.5 1l.5-2l1 0l.5-1l1 0l.5-1l.5 0l.5-1l.5 0l.5-1l.5-1l.5-1l.5-1l.5-2l.5-1l.5-3l.5-1l.5-3l.5-2l.5-3l.5-1l.5-3l.5 0l.4-1l.1 1l.5 1l.5 4l.5 3l.5 5l.5 3l.5 3l.5 2l.5 2l.5 1l.5 1l.5 0l.5 1l.5 0l.5 1l.5-1l.5 1l1.5 0l.5 1l.5-1l.5 1l.5-1l.5 1l.5-1l.5 1l.5-1l.5 1l.5-1l.5 1l1 0l.5-1l2.5 0l.5-1l.5 1l.5-1l.5 1l.5-1l1.5 0l.5-1l2 0l.5-1l.5-1l.5 0l.5-1l.5 1l.5-2l.5 0l.5-1l.5-1l.5-1l.5-2l.5-1l.5-1l.5-2l.5-1l.5-3l.5-3l.5-3l.5-4l.5-4l.5-4l.5-8l.5-5l.5-10l.5-8l.5-11l.5-13l.5-16l.5-16l.5-19l.5-18l.5-22l.5-22l.5-26l.5-57l.4-54l.1 6l.5 89l.5 58l.5 40l.5 35l.5 27l.5 22l.5 14l.5 13l.5 8l.5 8l.5 3l.5 5l.5 2l.5 2l.5 2l.5 2l.5 1l.5 0l.5 2l.5 1l.5 0l.5 1l1 0l.5 1l3 0l.5 1l.5-1l.5 1l.5-1l.5 1l43 0l.5-1l.5 1l.5-1l.5 1l.5-1l2.5 0l.5-1l.5 1l.5-1l1.5 0l.5-1l.5 0l.5-1l.5 0l.5-1l.5-1l.5-1l.5-1l.5-2l.5-1l.5-2l.5-2l.5-4l.5-3l.5-4l.5-5l.5-6l.5-5l.5-7l.5-6l.5-9l.5-13l.5-21l.5 22l.5 21l.5 14l.5 10l.5 9l.5 5l.5 5l.5 3l.5 2l.5 2l.5 1l.5 1l.5 1l.5 0l.5 1l1.5 0l.5 1l.5-1l.5 1l.5-1l.5 1l11 0l.5-1l.5 1l.5-1l2.5 0l.5-1l1.5 0l.5-1l.5 0l.5-2l.5 0l.5-1l.5-1l.5-2l.5-1l.5-2l.5-2l.5-3l.5-2l.5-4l.5-2l.5-4l.5-2l.2-1l.3 0l.5-2l.5 1l.5 1l.5 1l.5-1l.5 2l.2 0l.3 2l.5 3l.5 5l.5 5l.5 4l.5 3l.5 2l.5 1l.5 2l.5 0l.5 1l.5 0l.5 1l1.5 0l.5 1l.5-1l.5 1l.5-1l.5 1l.5-1l.5 1l.5-1l.5 1l.5-1l.5 1l.5-1l2.5 0l.5-1l1.5 0l.5-1l.5 0l.5-1l.5 0l.5-1l.5-1l.5-2l.5 0l.5-3l.5-1l.5-3l.5-2l.5-4l.5-3l.5-5l.5-6l.5-4l.5-4l.5-8l.5-10l.5-18l.5 19l.5 16l.5 11l.5 8l.5 7l.5 5l.5 3l.5 2l.5 3l.5 0l.5 2l.5 0l.5 1l5 0l.5-1l1.5 0l.5-1l.5-1l.5 0l.5-1l.5-1l.5 0l.5-1l.5 0l.5-1l.5 0l.5-1l1 0l.5 1l.5 0l.5 1l.5 1l.5 2l.5 0l.5 2l.5 0l.5 1l.5-1l.5 2l.5 0l.5 1l.5-1l.5 1l3.5 0l.5 1l.5-1l.5 1l.5-1l4.5 0l.5-1l.5 1l.5-1l1.5 0l.5-1l1.5 0l.5-1l1.5 0l.5-1l.5 1l1 0l.5 1l.5 0l.5 1l1.5 0l.5 1l1.5 0l.5 1l.5-1l.5 1l28 0l.5 1l.5-1l15 0l.5-1l.5 1l.5-1l.5 1l.5-1l1.5 0l.5-1l.5 1l.5-1l.5 0l.5-1l1.5 0l.5-2l.5 0l.5-1l.5-2l.5-1l.5-1l.5-2l.5-2l.5-3l.5-3l.5-4l.5-3l.5-3l.5-5l.5-7l.5-12l.1-2l.4 10l.5 12l.5 9l.5 6l.5 5l.5 3l.5 3l.5 1l.5 2l.5 0l.5 1l2 0l.5-1l.5 0l.5-1l.5 0l.5-1l2 0l.5 1l.5 1l.5 1l.5 1l.5 1l.5 0l.5 1l.5 0l.5 1l.5-1l.5 1l3.5 0l.5 1l.5-1l.5 1l.5-1l.5 1l.5-1l.5 1l.5-1l.5 1l.5-1l.5 1l.5-1l.5 1l.5-1l.5 1l.5-1l.5 1l.5-1l.5 1l.5-1l.5 1l.5-1l.5 1l.5-1l.5 1l.5-1l.5 1l.5-1l5.5 0l.5-1l.5 1l.5-1l1.5 0l.5-1l1.5 0l.5-1l.5 0l.5-1l.5 0l.5-2l.5 1l.5-2l1.5 0l.5-1l.5 0l.5 1l.5 1l.5 1l.5 1l.5 1l.5 0l.5 1l.5 0l.5 1l.5 0l.5 1l.5-1l.5 1l2.5 0l.5 1l.5-1l6.5 0l.5-1l.5 1l.5-1l1.5 0l.5-1l1.5 0l.5-1l.5 0l.5-1l.5 0l.5-1l.5-1l.5-1l.5 0l.5-1l.5-1l.5-1l.5 0l.5-1l1 0l.5 1l.5 1l.5 1l.5 1l.5 1l.5 1l.5 1l2.5 0l.5-1l.5-1l.5-1l.5-1l.5-1l.5-1l.5-1l.5-1l.5-2l.2 2l.3 0l.5 2l.5 2l.5 1l.5 3l.5 1l.5 1l.5 1l.5 0l.5 1l1.5 0l.5 1l.5-1l.5 1l40.5 0l.5 1l.5-2l.5 1l.5-1l.5 1l.5-1l1.5 0l.5-1l.5 1l.5-1l.5 0l.5-1l1.5 0l.5-1l.5 0l.5-1l.5 1l.5-1l1.5 0l.5 1l.5 0l.5 1l.5 0l.5 1l.5 0l.5 1l1.5 0l.5 1l3.5 0l.5 1l.5-1l.5 1l.5-1l.5 1l.5-1l.5 1l.5-1l.5 1l.5-1l.5 1l.5-1l.5 1l.5-1l.5 1l.5-1l.5 1l.5-1l.5 1l.5-1l.5 1l.5-1l.5 1l.5-1l5.5 0l.5-1l.5 1l.5-1l1.5 0l.5-1l1 0l.5-1l.5 0l.5-1l.5-1l.5-1l.5 0l.5-1l.5-2l.5-1l.5-3l.5-3l.5-2l.5-3l.5-5l.5-4l.5-5l.5-4l.5-7l.5-7l.5-16l.2-5l.3 9l.5 19l.5 11l.5 10l.5 6l.5 6l.5 3l.5 3l.5 1l.5 2l.5 1l.5 1l.5 0l.5 1l1 0l.5 1l.5 0l.5-1l.5 1l.5-1l.5 1l.5-1l2.5 0l.5-1l.5 1l.5-1l.5 0l.5-1l.5 0l.5-1l1 0l.5-1l.5-1l.5 0l.5-1l1.5 0l.5-1l.5 0l.5 2l.5-1l.5 2l.5 0l.5 2l.5 0l.5 1l.5 0l.5 1l.5 0l.5 1l1.5 0l.5 1l.5-1l.5 0l.5 1l9 0l.5 1l.5-1l.5 1l.5-1l.5 1l.5-1l.5 1l.5-1l.5 1l.5-1l.5 1l.5-1l.5 1l.5-1l.5 1l.5-1l.5 1l.5-1l.5 1l.5-1l7.5 0l.5-1l.5 1l.5-1l5.5 0l.5 1l.5-1l.5 1l2.5 0l.5 1l.5-1l.5 1l.5-1l.5 1l.5-1l.5 1l.5-1l.5 1l.5-1l.5 1l.5-1l.5 1l.5-1l.5 1l.5-1l.5 1l.5-1l.5 1l.5-1l.5 1l.5-1l.5 1l.5-1l.5 1l.5-1l.5 1l.5-1l3.5 0l.5-1l.5 1l.5 0l.5-1l4 0l.5 1l.5-1l.5 1l1.5 0l.5 1l.5-1l.5 1l.5-1l.5 1l15 0l.5-1l.5 1l.5-1l.5 1l.5-1l.5 1l.5 0l.5-1l2 0l.5-1l1.5 0l.5-1l.5 0l.5-1l.5-1l.5-1l.5 0l.5-1l.5 0l.5-3l.5-1l.5-2l.5-1l.5-2l.5-1l.5-2l.5 0l.5-1l.5 2l.5 1l.5 3l.5 3l.5 3l.5 2l.5 1l.5 1l.5 2l.5 0l.5 1l1.5 0l.5 1l3.5 0l.5 1l.5-1l.5 1l.5-1l.5 1l.5-1l.5 1l.5-1l.5 1l.5-1l.5 1l.5-1l.5 1l.5-1l.5 1l.5 0l.5-1l.5 1l29.5 0l.5-1l.5 1l.5-1l.5 1l.5-1l.5 1l.5-1l.5 1l.5-1l2.5 0l.5-1l1.5 0l.5-1l.5 0l.5-1l1.5 0l.5-2l.5 1l.5-1l.5 0l.5-1l.5 0l.5-1l.5 0l.5-1l.2 1l.8 0l.5 1l.5 1l.5 1l.5 1l.5 0l.5 2l1 0l.5 1l1 0l.5 1l3.5 0l.5 1l.5-1l.5 1l.5-1l.5 1l.5-1l.5 1l.5-1l.5 1l.5-1l.5 1l.5-1l.5 1l38 0l.5-1l.5 1l.5-1l.5 1l.5-1l.5 1l.5-1l2.5 0l.5-1l1.5 0l.5-1l.5 0l.5-1l.5 1l.5-2l.5 1l.5-1l.5-1l.5-1l.5 0l.5-2l.5 0l.5-2l.5 0l.5-2l.5-1l.5-2l.5 0l.5-2l.5-1l.5-1l1 0l.5 1l.5 1l.5 2l.5 2l.5 3l.5 1l.5 2l.5 2l.5 1l.5 1l.5 1l.5 0l.5 1l.5 0l.5 1l.5 0l.5 1l.5-1l.5 1l6 0l.5-1l.5 1l.5-1l.5 1l.5 0l.5-1l1 0l.5-1l.5 0l.5-1l.5 0l.5-2l.5 1l2 0l.5 1l.5 1l.5 1l.5 0l.5 1l.5 0l.5 1l.5-1l.5 1l11 0l.5-1l.5 1l.5-1l1.5 0l.5-1l.5 1l.5-1l.5 0l.5-1l.5 0l.5-2l.5 0l.5-1l.5-1l.5-2l.5-2l.5-2l.5-2l.5-3l.5-3l.5-2l.5-2l.5-2l.5 0l.5 4l.5 5l.5 3l.5 5l.5 3l.5 2l.5 2l.5 0l.5 2l.5 0l.5 1l1.5 0l.5 1l.5-1l.5 1l6 0l.5 1l.5-1l4.5 0l.5 1l.5-1l.5 1l.5-1l.5 1l.5-1l.5 1l.5-1l.5 1l.5-1l.5 1l.5-1l.5 1l.5-1l.5 1l.5-1l.5 1l.5-1l.5 1l.5-1l.5 1l.5-1l.5 1l.5-1"/>
<path fill="none" stroke="#ff0000" stroke-width="2" shape-rendering="crispEdges" d="M119.5 914l5 0l.5 1l.5-1l.5 1l.5-1l.5 1l.5-1l.5 1l.5-1l.5 1l.5-1l.5 1l.5-1l.5 1l8.5 0l.5 1l.5-1l.5 1l.5-1l.5 1l.5-1l.5 1l.5-1l.5 1l.5-1l.5 1l.5-1l.5 1l27 0l.5-1l.5 1l.5-1l1.5 0l.5-1l1.5 0l.5-1l.5-1l.5-1l.5 0l.5-2l.5-1l.5-2l.5-1l.5-3l.5-2l.5-3l.5-4l.5-4l.5-5l.5-4l.5-7l.5-10l.5-13l.5 10l.5 8l.5 4l.5 0l.5-2l.5 13l.5 10l.5 8l.5 4l.5 4l.5 2l.5 2l.5 1l.5 1l.5 0l.5 1l.5 0l.5 1l2.5 0l.5 1l.5-1l.5 1l.5-1l.5 1l15.5 0l.5 1l.5-1l.5 1l.5-1l.5 1l.5-1l.5 1l.5-1l.5 1l.5-1l.5 1l.5-1l.5 1l.5-1l.5 1l.5-1l.5 1l.5-1l.5 1l.5-1l.5 1l.5-1l.5 1l.5-1l.5 1l.5-1l.5 1l.5-1l.5 1l.5-1l.5 1l.5-1l.5 1l.5-1l.5 1l.5-1l.5 1l.5-1l.5 1l.5-1l.5 1l48 0l.5-1l.5 1l.5-1l.5 1l.5-1l.5 1l.5-1l1.5 0l.5-1l1.5 0l.5-1l.5 0l.5-1l.5 0l.5-1l.5 0l.5-1l.5-1l.5-2l.5 0l.5-3l.5-1l.5-3l.5-2l.5-4l.5-4l.5-5l.5-6l.5-7l.5-8l.5-9l.5-10l.5-11l.5-9l.5-20l.5-29l.5 33l.5 29l.5 19l.5 15l.5 12l.5 9l.5 6l.5 5l.5 3l.5 2l.5 2l.5 1l.5 1l.5 1l.5 0l.5 1l.5 0l.5 1l2.5 0l.5 1l.5-1l.5 1l11.5 0l.5 1l.5-1l.5 1l.5-1l.5 1l.5-1l.5 1l.5-1l.5 1l.5-1l.5 1l.5-1l.5 1l.5-1l.5 1l.5-1l.5 1l.5-1l.5 1l.5-1l.5 1l.5-1l.5 1l.5-1l.5 1l.5-1l5.5 0l.5-1l.5 1l.5-1l.5 0l.5-1l.5 1l.5-1l.5 0l.5-1l.5 0l.5-1l1.5 0l.4-1l.1 1l.5 0l.5 1l.5 0l.5 1l.5 0l.5 1l.5 0l.5 1l1.5 0l.5 1l.5-1l.5 1l.5-1l.5 1l26.5 0l.5 1l.5-1l.5 1l.5-1l.5 1l.5-1l.5 1l.5-1l.5 1l.5-1l.5 1l.5-1l.5 1l.5-1l.5 1l.5-1l.5 1l.5-1l.5 1l.5-1l.5 1l.5-1l.5 1l.5-1l.5 1l.5-1l.5 1l.5-1l.5 1l.5-1l.5 1l.5-1l.5 1l.5-1l.5 1l.5-1l.5 1l.5-1l.5 1l.5-1l.5 1l.5-1l.5 1l.5-1l.5 1l.5-1l.5 1l.5-1l25 0l.5-1l.5 1l1.5 0l.5-1l.5 1l.5-1l.5 1l.5-1l.5 1l.5-1l.5 1l.5-1l.5 1l.5-1l4 0l.5-1l.5 0l.5 1l.5-1l.5 1l.5-1l1.5 0l.5-1l.5 1l.5 0l.5-1l1 0l.5-1l.5 0l.5-1l.5 0l.5-1l.5 0l.5-1l.5-1l.5-1l.5-1l.5 0l.5-2l.5-1l.5-1l.5-2l.5-2l.5-3l.5-2l.5-5l.5-4l.5-5l.5-6l.5-7l.5-9l.5-11l.5-12l.5-15l.5-19l.5-21l.5-22l.5-23l.5-24l.5-30l.5-52l.5-74l.5 85l.5 73l.5 49l.5 38l.5 32l.5 21l.5 15l.5 11l.5 7l.5 4l.5 4l.5 2l.5 1l.5 2l.5 1l.1 0l.4 1l.5 3l.5 3l.5 2l.5 2l.5 0l.5 2l.5 0l.5 2l.5-1l1 0l.5 1l4.5 0l.5 1l.5-1l.5 1l.5-1l.5 1l.5-1l.5 1l.5-1l.5 1l.5-1l.5 1l.5-1l.5 1l.5-1l.5 1l.5-1l.5 1l.5-1l9.5 0l.5-1l.5 1l.5-1l.5 1l.5-1l.5 1l.5-1l2.5 0l.5-1l.5 2l.5-2l1.5 0l.5-1l.5 0l.5-1l.5 0l.5-1l.5 0l.5-1l.5-1l.5-1l.5-2l.5-2l.5-2l.5-2l.5-3l.5-3l.5-2l.5-3l.5-1l.5-1l.5 2l.5 4l.5 5l.5 4l.5 4l.5 2l.5 2l.5 1l.5 2l.5 0l.5 1l1.5 0l.5 1l.5-1l.5 1l8.5 0l.5 1l.5-2l.5 1l.5-1l.5 1l.5-1l3.5 0l.5-1l.5 1l.5-1l1.5 0l.5-1l.5 1l.5-1l.5 0l.5-1l1.5 0l.5-1l.5 0l.5-1l.5-1l.5-1l.5 0l.5-2l.5 0l.5-2l.5 0l.5-3l.5-1l.5-3l.5-2l.5-3l.5-3l.5-6l.5-5l.5-8l.5-7l.5-12l.5-11l.5-14l.5-18l.5-22l.5-25l.5-30l.5-26l.5-38l.5-64l.4-56l.1 2l.5 84l.5 53l.5 32l.5 22l.5 6l.5-4l.5-9l.5-10l.5-22l.5-45l.3-25l.2 14l.5 58l.5 36l.5 26l.5 23l.5 19l.5 18l.5 19l.5 14l.5 12l.5 10l.5 7l.5 7l.5 5l.5 2l.5 3l.5 2l.5 2l.5 1l.5 1l.5 1l.5 1l.5 1l.5 0l.5 1l1.5 0l.5 1l2.5 0l.5 1l.5-1l.5 1l.5-1l.5 1l16.5 0l.5 1l.5-1l29.5 0l.5-1l.5 1l.5-1l.5 1l.5-1l2.5 0l.5-1l.5 1l.5-1l.5 0l.5-1l1 0l.5-1l.5-1l.5 0l.5-1l.5-1l.5-2l.5-1l.5-2l.5-2l.5-3l.5-3l.5-3l.5-3l.5-4l.5-2l.5-3l.5 0l.5 3l.5 3l.5 7l.5 6l.5 4l.5 3l.5 2l.5 2l.5 1l.5 1l.5 0l.5 1l.5 0l.5 1l1.5 0l.5 1l.5-1l.5 1l.5-1l.5 1l.5-1l.5 1l.5-1l.5 1l1 0l.5-1l.5 1l2 0l.5-1l.5 1l.5-1l.5 1l.5-1l.5 1l.5-1l.5 1l.5-1l.5 1l.5-1l.5 1l.5-1l2.5 0l.5-1l.5 1l.5-1l1.5 0l.5-1l.5 0l.5-1l.5 0l.5-1l.5 0l.5-1l.5-1l.5-2l.5-1l.5-2l.5-1l.5-3l.5-3l.5-4l.5-3l.5-4l.5-3l.5-6l.5-13l.2-2l.3 6l.5 13l.5 9l.5 7l.5 5l.5 3l.5 3l.5 2l.5 2l.5 0l.5 1l.5 1l1 0l.5 1l1.5 0l.5 1l.5-1l.5 1l.5-1l.5 1l.5 0l.5-1l.5 1l20.5 0l.5-1l.5 1l.5-1l.5 1l.5-1l.5 1l.5-1l.5 1l.5-1l3.5 0l.5-1l.5 1l.5-1l.5 0l.5-1l.5 1l.5-1l.5 0l.5-1l.5 0l.5-1l.5 0l.5-1l.5 0l.5-2l.5-1l.5-1l.5-2l.5-2l.5-2l.5-3l.5-3l.5-4l.5-5l.5-6l.5-5l.5-8l.5-9l.5-10l.5-8l.5-11l.5-19l.5-27l.5 29l.5 25l.5 13l.5 12l.5 9l.5 1l.5 2l.5-1l.5-2l.5-5l.5-7l.5-15l.3-7l.2 5l.5 23l.5 14l.5 12l.5 7l.5 6l.5 3l.5 3l.5 1l.5 2l.5 1l.5 1l.5 0l.5 1l1.5 0l.5 1l.5-1l.5 1l4.5 0l.5 1l.5-1l.5 1l.5-1l.5 1l.5-1l.5 1l.5-1l.5 1l.5-1l.5 1l.5-1l.5 1l.5-1l.5 1l.5-1l.5 1l.5-1l.5 1l.5-1l.5 1l.5-1l.5 1l.5-1l.5 1l.5-1l.5 1l.5-1l.5 1l.5-1l.5 1l.5-1l.5 1l.5-1l.5 1l.5-1l.5 1l.5-1l.5 1l.5-1l.5 1l24 0l.5-1l.5 1l.5-1l.5 1l.5-1l.5 1l.5-1l.5 1l.5-1l.5 1l.5-1l.5 1l.5-1l.5 1l.5-1l.5 1l.5-1l3.5 0l.5-1l.5 1l.5-1l1.5 0l.5-1l1.5 0l.5-1l.5 0l.5-1l.5 0l.5-1l.5 0l.5-1l.5-1l.5-1l1 0l.5-1l1 0l.5 1l1 0l.5 2l.5 1l.5 1l.5 1l.5 1l.5 0l.5 1l.5 0l.5 1l.5-1l.5 1l2.5 0l.5 1l.5-1l.5 1l.5-1l.5 1l.5-1l.5 1l.5-1l.5 1l.5-1l.5 1l.5-1l.5 1l.5-1l2.5 0l.5-1l.5 1l.5-1l.5 0l.5-1l.5 1l.5-1l.5 0l.5-2l.5 0l.5-1l.5-1l.5-1l.5-1l.5-3l.5-2l.5-3l.5-2l.5-3l.5-2l.5-5l.5-4l.5-12l.3-4l.2 3l.5 14l.5 8l.5 6l.5 4l.5 5l.5 2l.5 2l.5 1l.5 1l.5 1l1 0l.5 1l.5 0l.5 1l.5-1l.5 1l16 0l.5-1l.5 1l.5-1l.5 1l.5-1l1.5 0l.5-1l1.5 0l.5-2l.5 1l.5-1l1.5 0l.5-1l.5 0l.5-1l2 0l.5 1l.5 1l.5 0l.5 1l.5 1l.5 0l.5 1l1.5 0l.5 1l2.5 0l.5 1l.5-1l.5 1l.5-1l.5 1l.5-1l.5 1l32.5 0l.5 1l.5-1l.5 1l.5-1l.5 1l.5-1l.5 1l.5-1l.5 1l.5-1l.5 1l.5-1l.5 1l.5-1l.5 1l.5-1l.5 1l.5-1l.5 1l.5-1l.5 1l.5-1l.5 1l.5-1l.5 1l.5-1l.5 1l.5-1l.5 1l.5-1l.5 1l.5-1l.5 1l.5-1l.5 1l.5-1l.5 1l.5-1l.5 1l.5-1l.5 1l.5-1l.5 1l.5-1l.5 1l.5-1l.5 1l.5-1l.5 1l.5-1l.5 1l.5-1l.5 1l.5-1l.5 1l.5-1l.5 1l.5-1l.5 1l.5-1l.5 1l.5-1l.5 1l.5-1l.5 1l.5-1l.5 1l.5-1l.5 1l.5-1l.5 1l.5-1l.5 1l.5-1l.5 1l.5-1l4.5 0l.5-1l.5 1l.5-1l.5 1l.5-1l.5 0l.5-1l1.5 0l.5-1l.5 0l.5-1l.5 0l.5-1l.5 0l.5-2l.5 0l.5-1l.5 0l.5-2l.5 1l.5 0l.5 1l.5 0l.5 1l.5 1l.5 2l.5 0l.5 2l.5 0l.5 1l1.5 0l.5 1l8 0l.5-1l.5 1l.5-1l1.5 0l.5-1l.5 1l.5-1l1.5 0l.5-1l.5 0l.5 1l.5-1l1 0l.5 1l.5-1l.5 1l.5 0l.5 1l.5-1l.5 1l2.5 0l.5-1l.5 0l.5 1l.5-1l.5 0l.5-1l.5 1l.5-1l.5 0l.5-1l1 0l.5-1l.5-1l.5-1l.5-1l.5 0l.5-1l.5 0l.5-1l.5 0l.5-1l.5 0l.5 1l.5 0l.5 2l.5 1l.5 1l.5 1l.5 1l.5 0l.5 1l3 0l.5-1l.5 0l.5-1l.5 0l.5-2l.5 0l.5-2l.5-1l.5-3l.5-2l.5-3l.5-3l.5-5l.5-3l.5-3l.5-6l.5-9l.4-9l.1 0l.5 16l.5 9l.5 9l.5 7l.5 4l.5 3l.5 2l.5 2l.5 1l.5 1l.5 1l.5 0l.5 1l.5-1l.5 1l2.5 0l.5 1l.5-1l.5 1l.5-1l.5 1l.5-1l.5 1l.5 0l.5-1l2 0l.5-1l.5 1l.5-1l1.5 0l.5-1l.5 0l.5-1l.5 0l.5-1l.5 0l.5-1l.5 1l.5-3l1 0l.5-2l.5-1l.5 0l.5-1l.6 0l.4 1l.5 1l.5 1l.5 1l.5 2l.5 0l.5 2l.5 1l.5 1l.5 0l.5 1l1.5 0l.5 1l.5-1l.5 1l5.5 0l.5 1l.5-1l.5 1l.5-1l.5 1l.5-1l.5 1l.5-1l.5 1l.5-1l.5 1l.5-1l.5 1l.5-1l.5 1l.5-1l.5 1l.5-1l.5 1l.5-1l.5 1l.5-1l.5 1l.5-1l.5 1l.5-1l.5 1l.5-1l.5 1l.5-1l.5 1l.5-1l.5 1l.5-1l.5 1l.5-1l.5 1l.5-1l.5 1l.5-1l.5 1l.5-1l.5 1l.5-1l.5 1l.5-1l.5 1l.5-1l.5 1l.5-1l.5 1l.5-1l.5 1l.5-1l.5 1l.5-1l.5 1l.5-1l.5 1l.5-1l.5 1l.5-1l.5 1l.5-1l.5 1l.5-1l.5 1l.5-1l.5 1l.5-1l.5 1l.5-1l.5 1l.5-1l.5 1l.5-1l.5 1l.5-1l.5 1l.5-1l.5 1l.5-1l.5 1l.5-1l.5 1l.5-1l.5 1l.5-1l.5 1l.5-1l.5 1l.5-1l.5 1l.5-1l.5 1l.5-1l.5 1l.5-1l.5 1l.5-1l.5 1l.5-1l.5 1l.5-1l.5 1l.5-1l.5 1l.5-1l.5 1l.5-1l.5 1l.5-1l.5 1l.5-1l.5 1l.5-1l.5 1l.5-1l.5 1l.5-1l3.5 0l.5-1l.5 1l.5-1l1.5 0l.5-1l1.5 0l.5-2l.5 0l.5-1l.5 0l.5-2l.5-1l.5-2l.5-1l.5-2l.5-3l.5-4l.5-3l.5-3l.5-3l.5-3l.5-2l.5 0l.5 2l.5 5l.5 4l.5 3l.5 2l.5 2l.5 0l.5 1l.5 2l.5 4l.5 2l.5 3l.5 2l.5 0l.5 1l1 0l.5 1l1.5 0l.5 1l.5-1l.5 1l.5-1l.5 1l28 0l.5-1l.5 1l.5-1l.5 1l.5-1l2.5 0l.5-1l.5 1l.5-1l.5 0l.5-1l1.5 0l.5-1l.5 0l.5-1l.5 0l.5-1l1 0l.5-1l.5-1l2.5 0l.5 2l.5 0l.5 2l.5 0l.5 1l.5 1l1 0l.5 1l.5 0l.5 1l3.5 0l.5 1l.5-1l.5 1l.5-1l.5 1l.5-1l.5 1l.5-1l.5 1l.5-1l.5 1l50 0l.5-1l.5 1l.5-1l1.5 0l.5-1l.5 1l.5-1l.5 0l.5-1l.5 0l.5-1l.5 0l.5-1l.5 0l.5-1l.5-1l.5-1l.8 0l.2 1l.5-1l1 0l.5 1l.5-1l2 0l.5 1l.5 2l.5 1l.5 2l.5 0l.5 1l5 0l.5-1l1.5 0l.5-1l.5 0l.5-1l.5-1l.5-1l.5 0l.5-2l.5-1l.5-1l.5-2l.5-1l.5-1l.5-2l.5 0l.5-1l.3 0l.2-1l.5 2l.5 2l.5 3l.5 2l.5 3l.5 1l.5 2l.5 0l.5 1l.5 0l.5 1l.5 0l.5 1l2.5 0l.5 1l.5-1l.5 1l.5-1l.5 1l.5-1l.5 1l.5-1l.5 1l.5-1l.5 1l.5-1l.5 1l.5-1l.5 1l.5-1l.5 1l.5-1l.5 1l.5-1l.5 1l.5-2l.5 1l1.5 0l.5-1l.5 0l.5 1l.5 0l.5-1l1 0l.5-1l.5 0l.5-1l.5 0l.5-2l.5 0l.5-1l.5-1l.5-1l.5-1l.5-2l.5-1l.5-1l.5-1l.5-1l.5 0l.5 1l.5 0l.5 1l1.5 0l.5-1l.5-1l.5 0l.5 1l.5 4l.5 3l.5 3l.5 1l.5 2l.5 1l1 0l.5 1l.5-1l.5 1l3.5 0l.5 1l.5-1l.5 1l.5-1l.5 1l.5-1l.5 1l.5-1l.5 1l.5-1l.5 1l.5-1l.5 1l.5-1l.5 1l.5-1l.5 1l.5-1l.5 1l.5-1l.5 1l.5-1l.5 1l.5-1l.5 1l.5-1l.5 1l.5-1l3.5 0l.5-1l.5 1l.5-1l4 0l.5 1l.5-1l.5 1l.5 0l.5 1l.5-1l.5 1l.5-1l.5 1l8 0"/>
<path fill="none" stroke="#0000ff" stroke-width="2" shape-rendering="crispEdges" d="M93.0 1006l.5 1l.5-1l.5 1l5.5 0l.5 1l.5-1l.5 1l.5-1l.5 1l5.5 0l.5 1l.5-1l.5 1l.5-1l.5 1l33 0l.5-1l.5 1l.5-1l1.5 0l.5-1l.5 1l.5-1l.5-1l1 0l.5-1l.5 0l.5-1l.5-1l.5-1l.5-1l.5-2l.5-1l.5-2l.5-3l.5-4l.5-3l.5-6l.5-3l.5-6l.5-5l.5-7l.5-11l.5-16l.5 15l.5 12l.5 7l.5 6l.5 2l.5 0l.5-5l.1 0l.4 8l.5 10l.5 7l.5 5l.5 3l.5 2l.5 2l.5 1l.5 2l.5-1l.5 1l1.5 0l.5 1l.5-1l.5 1l4.5 0l.5 1l.5-1l.5 1l.5-1l.5 1l.5-1l.5 1l.5-1l.5 1l.5-1l.5 1l.5-1l.5 1l.5-1l.5 1l.5-1l.5 1l.5-1l.5 1l.5-1l.5 1l.5-1l.5 1l.5-1l.5 1l32.5 0l.5 1l.5-1l.5 1l.5-1l.5 1l.5-1l.5 1l.5-1l.5 1l.5-1l.5 1l.5-1l.5 1l.5-1l.5 1l.5-1l.5 1l.5-1l.5 1l.5-1l.5 1l.5-1l.5 1l.5-1l.5 1l.5-1l.5 1l.5-1l.5 1l.5-1l.5 1l.5-1l.5 1l.5-1l.5 1l.5-1l.5 1l.5-1l.5 1l.5-1l.5 1l.5-1l.5 1l.5-1l.5 1l.5-1l.5 1l.5-1l.5 1l.5-1l.5 1l.5-1l.5 1l.5-1l.5 1l.5-1l.5 1l.5-1l.5 1l.5-1l.5 1l.5-1l.5 1l.5-1l.5 1l.5-1l.5 1l.5-1l4.5 0l.5-1l.5 1l.5-1l.5 1l.5-1l2.5 0l.5-1l.5 0l.5-1l.5 0l.5-1l.5 0l.5-1l.5 0l.5-1l.5-1l.5-2l.5-1l.5-2l.5-2l.5-3l.5-2l.5-6l.5-2l.5-6l.5-6l.5-8l.5-7l.5-10l.5-8l.5-10l.5-17l.5-32l.1-1l.4 24l.5 31l.5 18l.5 15l.5 13l.5 9l.5 5l.5 5l.5 3l.5 3l.5 1l.5 2l.5 0l.5 2l.5 0l.5 1l.5-1l.5 1l.5 0l.5 1l.5-1l.5 1l2.5 0l.5 1l.5-1l.5 1l.5-1l.5 1l.5-1l.5 1l.5-1l.5 1l.5-1l.5 1l20 0l.5-1l.5 1l.5-1l.5 1l.5-1l.5 0l.5 1l.5-1l1 0l.5-1l1.5 0l.5-1l.5 0l.5-1l.5 1l.5-1l1.5 0l.5 1l.5 0l.5 1l.5 0l.5 1l.5 0l.5 1l.5-1l.5 1l6.5 0l.5 1l.5-1l.5 1l.5-1l.5 1l.5-1l.5 1l.5-1l.5 1l.5-1l.5 1l.5-1l.5 1l.5-1l.5 1l.5-1l.5 1l.5-1l.5 1l.5-1l.5 1l.5-1l.5 1l.5-1l.5 1l.5-1l.5 1l.5-1l.5 1l.5-1l.5 1l.5-1l.5 1l.5-1l.5 1l.5-1l.5 1l.5-1l.5 1l.5-1l.5 1l.5-1l.5 1l.5-1l.5 1l.5-1l.5 1l.5-1l.5 1l.5-1l.5 1l.5-1l.5 1l.5-1l.5 1l.5-1l.5 1l.5-1l.5 1l.5-1l.5 1l.5-1l.5 1l.5-1l.5 1l.5-1l.5 1l.5-1l.5 1l.5-1l.5 1l.5-1l.5 1l.5-1l.5 1l.5-1l.5 1l.5 0l.5-1l.5 1l25 0l.5-1l.5 1l.5 0l.5-1l.5 1l.5-1l.5 1l.5-1l.5 1l.5-1l.5 1l.5-1l.5 1l.5-1l.5 1l.5-1l.5 1l.5-1l.5 1l.5-1l.5 1l.5-1l.5 1l.5-1l6.5 0l.5-1l.5 1l.5-1l.5 1l.5-1l2.5 0l.5-1l.5 1l.5-1l.5 0l.5-1l.5 1l.5-1l.5 0l.5-1l.5 0l.5-1l.5 0l.5-1l.5 0l.5-1l.5-1l.5-1l.5-1l.5-1l.5-1l.5-3l.5-1l.5-3l.5-1l.5-5l.5-3l.5-6l.5-4l.5-8l.5-7l.5-10l.5-12l.5-14l.5-17l.5-18l.5-23l.5-23l.5-24l.5-26l.5-32l.5-80l.3-36l.2 21l.5 101l.5 61l.5 46l.5 35l.5 27l.5 19l.5 13l.5 9l.5 7l.5 3l.5 3l.5 2l.5 2l.5 1l.5 3l.5 2l.5 4l.5 2l.5 3l.5 0l.5 1l.5 0l.5 1l.5 0l.5 1l1.5 0l.5 1l.5-1l.5 1l6.5 0l.5 1l.5-1l.5 1l.5-1l.5 1l.5-1l.5 1l.5-1l.5 1l.5-1l.5 1l.5-1l.5 1l.5-1l.5 1l.5-1l.5 1l.5-1l.5 1l.5-1l.5 1l.5-1l.5 1l.5-1l7.5 0l.5-1l.5 1l.5-1l1.5 0l.5-1l1.5 0l.5-1l.5 0l.5-1l.5-1l.5-1l.5-1l.5-2l.5-1l.5-2l.5-2l.5-3l.5-3l.5-3l.5-1l.5-2l.5-1l.1 0l.4 1l.5 3l.5 6l.5 4l.5 4l.5 2l.5 2l.5 1l.5 1l.5 1l.5 1l1.5 0l.5 1l.5-1l.5 1l11 0l.5-1l.5 1l.5-1l.5 1l.5-1l.5 1l.5-1l.5 1l.5-1l3.5 0l.5-1l.5 1l.5-1l1.5 0l.5-1l1.5 0l.5-1l.5 0l.5-1l.5 0l.5-1l.5 0l.5-1l.5-1l.5-1l.5-1l.5-2l.5-1l.5-2l.5-2l.5-2l.5-3l.5-4l.5-4l.5-6l.5-5l.5-9l.5-9l.5-11l.5-15l.5-17l.5-21l.5-25l.5-27l.5-32l.5-32l.5-56l.5-76l.5 76l.5 68l.5 40l.5 26l.5 12l.5 0l.5-7l.5-15l.5-17l.5-27l.5-58l.3-29l.2 20l.5 86l.5 54l.5 41l.5 28l.5 22l.5 13l.5 11l.5 6l.5 5l.5 3l.5 3l.5 2l.5 2l.5 0l.5 2l.5 0l.5 1l.5 0l.5 1l.5 0l.5 1l.5-1l.5 1l1.5 0l.5 1l.5-1l.5 1l.5-1l.5 1l22 0l.5 1l.5-1l11.5 0l.5 1l.5-1l11.5 0l.5-1l.5 1l.5-1l.5 1l.5-1l.5 1l.5-2l.5 1l1.5 0l.5-1l.5 0l.5 1l.5-1l.5-1l1 0l.5-1l.5 0l.5-1l.5 0l.5-1l.5-1l.5-2l.5-1l.5-3l.5-1l.5-3l.5-2l.5-4l.5-4l.5-4l.5-4l.5-1l.5-1l.1 0l.4 1l.5 5l.5 7l.5 5l.5 6l.5 3l.5 3l.5 1l.5 2l.5 1l.5 1l.5 0l.5 1l.5-1l.5 1l1.5 0l.5 1l.5-1l.5 1l.5-1l.5 2l.5-1l.5 0l.5-1l.5 1l7 0l.5-1l.5 1l.5-1l.5 1l.5-1l.5 1l.5-1l.5 1l.5-1l3.5 0l.5-1l.5 0l.5 1l.5-1l.5-1l1 0l.5-1l.5 0l.5-1l.5-1l.5-1l.5-1l.5-1l.5-2l.5-2l.5-4l.5-1l.5-4l.5-3l.5-4l.5-3l.5-6l.5-9l.4-9l.1 1l.5 16l.5 9l.5 7l.5 7l.5 4l.5 3l.5 2l.5 2l.5 1l.5 1l.5 0l.5 1l.5 0l.5 1l2.5 0l.5 1l.5-1l.5 1l.5-1l.5 1l.5-1l.5 1l.5-1l.5 1l4.5 0l.5-1l.5 1l4 0l.5-1l.5 0l.5 1l.5-1l.5 1l.5-1l.5 1l.5-1l.5 1l.5-1l.5 1l.5-1l.5 1l.5-1l.5 1l.5-1l.5 1l.5-1l.5 1l.5-1l4.5 0l.5-1l.5 1l.5-1l2.5 0l.5-1l1.5 0l.5-1l.5 0l.5-1l.5 0l.5-2l.5 0l.5-2l.5 0l.5-2l.5-1l.5-3l.5-2l.5-3l.5-3l.5-5l.5-4l.5-7l.5-6l.5-9l.5-8l.5-10l.5-9l.5-12l.5-21l.5-29l.5 31l.5 25l.5 18l.5 12l.5 7l.5 4l.5 1l.5-2l.5-3l.5-7l.5-13l.3-7l.2 5l.5 22l.5 16l.5 11l.5 7l.5 4l.5 4l.5 1l.5 2l.5 1l.5 1l.5 0l.5 1l.5 0l.5 1l1.5 0l.5 1l.5-1l.5 1l.5-1l.5 1l.5-1l.5 1l55 0l.5-1l.5 1l.5-1l.5 1l.5-1l.5 1l.5-1l2.5 0l.5-1l.5 1l.5-1l.5-1l1 0l.5-1l.5 1l.5-1l.5 0l.5-1l.5-1l.5 0l.5-1l.5-1l.5 1l.5-2l2.5 0l.5 1l.5 0l.5 2l.5 0l.5 2l.5 0l.5 1l.5 0l.5 1l.5-1l.5 2l1.5 0l.5 1l.5-1l.5 1l.5-1l.5 1l.5-1l.5 1l.5-1l.5 1l1 0l.5-1l.5 1l.5-1l.5 1l.5-1l.5 1l.5-1l2 0l.5 1l.5-2l1.5 0l.5-1l.5 0l.5-1l.5-1l.5-1l.5-1l.5-1l.5-1l.5-3l.5-2l.5-3l.5-2l.5-3l.5-4l.5-3l.5-5l.5-10l.3-5l.2 3l.5 14l.5 7l.5 7l.5 5l.5 4l.5 2l.5 2l.5 1l.5 1l.5 1l.5 1l1.5 0l.5 1l.5-1l.5 1l7 0l.5 1l.5-1l9 0l.5-1l.5 1l.5-1l.5 1l.5-1l1.5 0l.5-1l1.5 0l.5-1l.5 0l.5-1l.5 0l.5-1l.5 0l.5-2l.5 0l.5-1l1.5 0l.3-1l.2 1l.5 0l.5 1l.5 1l.5 1l.5 1l.5 1l.5 1l.5 1l1.5 0l.5 1l3.5 0l.5 1l.5-1l.5 1l.5-1l.5 1l.5-1l.5 1l.5-1l.5 1l.5-1l.5 1l.5-1l.5 1l.5-1l.5 1l.5-1l.5 1l.5-1l.5 1l.5-1l.5 1l.5-1l.5 1l.5-1l.5 1l.5-1l.5 1l.5-1l.5 1l.5-1l.5 1l.5-1l.5 1l.5-1l.5 1l8.5 0l.5-1l.5 1l41.5 0l.5-1l.5 1l.5-1l.5 1l.5-1l.5 1l.5-1l.5 1l.5-1l.5 1l.5-1l.5 1l.5-1l.5 1l.5-1l3.5 0l.5-1l1.5 0l.5-1l.5 0l.5-1l.5 0l.5-1l.5 0l.5-1l.5-1l.5-1l.5 0l.5-1l.5 0l.5-1l.5 0l.5 1l.5 1l.5 1l.5 1l.5 2l.5 0l.5 2l1.5 0l.5 1l2.5 0l.5 1l.5-1l.5 1l.5-1l.5 1l.5-1l.5 1l.5-1l3.5 0l.5-1l.5 1l.5-1l.5 0l.5-1l.5 1l.5-1l.5 0l.5-1l.5 0l.5-1l2 0l.5 1l1 0l.5 1l.5 1l5 0l.5-1l1.5 0l.5-1l.5 0l.5-1l.5 0l.5-1l.5 0l.5-1l.5-1l.5 1l.5-1l.5-1l.5-1l1 0l.5-1l1 0l.5 1l.5 1l.5 1l.5 1l.5 1l.5 1l1.5 0l.5 1l1 0l.5-1l1 0l.5-1l.5-1l.5 0l.5-3l.5 0l.5-2l.5-1l.5-3l.5-2l.5-4l.5-3l.5-4l.5-4l.5-5l.5-11l.3-7l.2 4l.5 10l.5 4l.5 6l.5 1l.5 0l.5 1l.5-1l.5 1l.5 4l.5 5l.5 6l.5 5l.5 2l.5 3l.5 1l.5 1l.5 0l.5 1l.5 0l.5 1l7 0l.5-1l.5 1l.5-1l1.5 0l.5-1l1.5 0l.5-1l.5 0l.5-1l.5 0l.5-1l.5-1l.5-1l.5 0l.5-1l1 0l.5-1l.5-1l1.5 0l.5 2l.5 0l.5 2l.5 1l.5 1l.5 1l.5 1l.5 0l.5 1l.5 0l.5 1l1.5 0l.5 1l.5-1l.5 1l7.5 0l.5 1l.5-1l.5 1l.5-1l.5 1l.5-1l.5 1l.5-1l.5 1l.5-1l.5 1l.5-1l.5 1l.5-1l.5 1l.5-1l.5 1l.5-1l.5 1l.5-1l.5 1l.5-1l.5 1l.5-1l.5 1l.5-1l.5 1l.5-1l.5 1l.5-1l.5 1l.5-1l.5 1l.5-1l.5 1l.5-1l.5 1l.5-1l.5 1l.5-1l.5 1l.5-1l.5 1l.5-1l.5 1l.5-1l.5 1l.5-1l.5 1l.5-1l.5 1l.5-1l.5 1l.5-1l.5 1l.5-1l.5 1l.5-1l.5 1l.5-1l.5 1l.5-1l.5 1l.5-1l.5 1l.5-1l.5 1l.5-1l.5 1l.5-1l.5 1l.5-1l.5 1l.5-1l.5 1l.5-1l.5 1l.5-1l.5 1l.5-1l.5 1l.5-1l.5 1l.5-1l.5 1l.5-1l.5 1l.5-1l.5 1l.5-1l.5 1l.5-1l.5 1l.5-1l.5 1l.5-1l.5 1l.5-1l.5 1l.5-1l.5 1l.5-1l.5 1l.5-1l.5 1l.5-1l.5 1l.5-1l.5 1l.5-1l.5 1l.5-1l4.5 0l.5-1l.5 1l.5-1l1.5 0l.5-1l.5 1l.5-1l.5 0l.5-1l.5 0l.5-1l.5-1l.5-1l.5 0l.5-2l.5-1l.5-3l.5-1l.5-4l.5-2l.5-4l.5-3l.5-3l.5-2l.5-2l.2 0l.3-1l.5 4l.5 4l.5 4l.5 3l.5 2l.5 0l.5 1l.5 0l.1 1l.4 1l.5 3l.5 3l.5 3l.5 1l.5 2l.5 0l.5 1l.5 0l.5 2l.5-1l1 0l.5 1l.5-1l.5 1l.5-1l.5 1l.5-1l.5 1l.5-1l.5 1l.5-1l.5 1l16 0l.5-1l.5 1l.5-1l.5 1l.5-1l.5 1l.5-1l.5 1l.5-1l.5 1l.5-1l.5 1l.5-1l.5 1l.5-1l2.5 0l.5-1l.5 1l.5-1l.5 1l.5-1l.5 0l.5-1l.5 1l.5-1l.5 0l.5-1l.5 0l.5-1l.5 0l.5-1l.5 0l.5-1l.5 0l.5-1l.5 0l.5-1l2 0l.5 1l.5 1l.5 1l.5 1l.5 1l.5 1l.5 0l.5 1l.5 0l.5 1l1.5 0l.5 1l.5-1l.5 1l10.5 0l.5 1l.5-1l.5 1l.5-1l.5 1l.5-1l.5 1l.5-1l.5 1l.5-1l.5 1l.5-1l.5 1l.5-1l.5 1l.5-1l.5 1l.5-1l.5 1l.5-1l.5 1l.5-1l.5 1l.5-1l.5 1l.5-1l.5 1l.5-1l.5 1l.5-1l.5 1l.5-1l.5 1l.5-1l.5 1l.5-1l.5 1l.5-1l.5 1l.5-1l.5 1l.5-1l.5 1l.5-1l.5 1l.5-1l.5 1l.5-1l.5 1l.5-1l.5 1l.5-1l.5 1l.5-1l.5 1l.5-1l.5 1l.5-1l.5 1l.5-1l.5 1l.5-1l.5 1l.5-1l.5 1l.5-1l.5 1l.5-1l.5 1l.5-1l.5 1l.5-1l.5 1l.5-1l.5 1l.5-1l.5 1l.5-1l.5 1l.5-1l.5 1l.5-1l.5 1l.5-1l.5 1l.5-1l.5 1l.5-1l3.5 0l.5-1l.5 1l.5-1l1.5 0l.5-1l1 0l.5-1l.5-1l.5 0l.5-2l.5 1l.5-1l.5-1l.5-1l.5 0l.5-1l1.5 0l.5 1l.5 0l.5 1l.5 0l.5-1l.5 1l.5 0l.5 2l.5 2l.5 1l.5 1l1.5 0l.5 1l.5-1l.5 1l.5-1l.5 1l.5-1l.5 1l.5 0l.5-1l1 0l.5-1l.5 0l.5-1l.5 0l.5-1l.5 0l.5-1l.5-1l.5-1l.5-1l.5-2l.5-2l.5 0l.5-1l.5-2l.5 0l.5-1l.2 0l.3 1l.5 1l.5 2l.5 3l.5 2l.5 3l.5 0l.5 1l.5 1l.5 1l.5 0l.5 1l1.5 0l.5 1l.5-1l.5 1l.5-1l.5 1l10 0l.5-1l.5 1l.5-1l.5 1l.5-1l2.5 0l.5-1l1.5 0l.5-2l.5 1l.5-1l.5 0l.5-1l.5-1l.5-1l.5-1l.5-1l.5-1l.5-2l.5-1l.5-2l.5 1l.5-3l1 0l.5 1l.5 1l.5 1l.5 0l.5 1l.5-1l.5 1l.5-2l.1 2l.4 0l.5 4l.5 2l.5 2l.5 2l.5 1l.5 0l.5 1l.5 0l.5 1l3 0l.5-1l.5 2l.5-1l.5 1l.5-1l.5 1l.5-1l.5 1l.5-1l.5 1l.5-1l.5 1l.5-1l.5 1l.5-1l.5 1l.5-1l.5 1l.5-1l.5 1l.5-1l.5 1l.5-1l.5 1l.5-1l.5 1l.5-1l.5 1l.5-1l.5 1l.5-1l.5 1l.5-1l.5 1l.5-1l.5 1l.5-1l3.5 0l.5-1l.5 1l.5-1l.5 1l2.5 0l.5 1l.5-1l.5 1l10 0"/>
</g>
</svg>
<div class="ct" style="left:9.8px;top:148px;letter-spacing:-0.5px">I rel.</div>
<div class="ct" style="left:13px;top:1069px">Cu-Ka (1.541874 A)</div>
<div class="ct" style="left:1354px;top:1069px">2theta</div>
<div class="tl" style="left:173.4px">20.00</div><div class="tl" style="left:304.9px">25.00</div><div class="tl" style="left:436.4px">30.00</div><div class="tl" style="left:567.9px">35.00</div><div class="tl" style="left:699.4px">40.00</div><div class="tl" style="left:830.9px">45.00</div><div class="tl" style="left:962.4px">50.00</div><div class="tl" style="left:1093.9px">55.00</div><div class="tl" style="left:1225.4px">60.00</div><div class="tl" style="left:1356.9px">65.00</div>
<div class="lg" style="top:187.0px;color:#646268">NH4NO3 (T = 323.1 K)</div><div class="lg" style="top:228.9px;color:#10b4ff">NH4NO3 (T = 318.1 K)</div><div class="lg" style="top:270.8px;color:#ff8a1a">NH4NO3 (T = 313.1 K)</div><div class="lg" style="top:312.7px;color:#19e09a">NH4NO3 (T = 308.1 K)</div><div class="lg" style="top:354.6px;color:#ff1010">NH4NO3 (T = 303.2 K)</div><div class="lg" style="top:396.5px;color:#1010ff">NH4NO3 (T = 298.2 K)</div>
<div id="note" class="abs"><div>Once the vertical pattern distance has been<br>reduced, you can place the mouse cursor<br>here below the pattern until the cursor<br>shape changes, and then turn the mouse<br>wheel to de- or increase the horizontal<br>pattern distance</div></div>
<svg class="abs" style="left:0;top:0" width="1670" height="1157" viewBox="0 0 1670 1157">
<defs><filter id="ds" x="-20%" y="-20%" width="140%" height="140%"><feDropShadow dx="2" dy="2.5" stdDeviation="1.6" flood-color="#000" flood-opacity="0.35"/></filter></defs>
<g filter="url(#ds)">
<line x1="1040.6" y1="479" x2="815.5" y2="1011.5" stroke="#e74c3c" stroke-width="10" stroke-linecap="round"/>
<polygon points="805.6,1035 803.5,1002.5 830.5,1014" fill="#e74c3c"/>
</g>
<g fill="#000">
<rect x="796.1" y="1040.8" width="1.8" height="45.2"/><rect x="810" y="1040.8" width="1.1" height="45.2"/>
<rect x="797.5" y="1047.1" width="13" height="2.8"/><rect x="797.5" y="1052" width="13" height="1.1"/>
<rect x="797.5" y="1055.8" width="13" height="2"/><rect x="797.5" y="1062.1" width="13" height="1.8"/>
<rect x="797.5" y="1069.9" width="13" height="0.9"/><rect x="797.5" y="1074" width="13" height="1.8"/>
<rect x="797.5" y="1077.1" width="13" height="2.8"/>
<rect x="802.5" y="1041" width="2.2" height="6.5"/><rect x="799.2" y="1044.2" width="8.8" height="1.6"/><rect x="800.8" y="1043" width="5.6" height="1.5"/>
<rect x="802.5" y="1079.5" width="2.2" height="6.5"/><rect x="799.2" y="1081.2" width="8.8" height="1.6"/><rect x="800.8" y="1082.6" width="5.6" height="1.5"/>
<rect x="781.1" y="1062.1" width="10.9" height="2.7"/><rect x="783.3" y="1059" width="2.2" height="9"/><rect x="782" y="1060.5" width="1.5" height="6"/>
<rect x="816" y="1062.1" width="10.1" height="2.7"/><rect x="822.2" y="1059" width="2.2" height="9"/><rect x="824.2" y="1060.5" width="1.5" height="6"/>
</g>
</svg>
<div class="abs" style="left:1566px;top:145px;width:34px;height:34px;border:1px solid #b8b8b8;border-radius:4px;background:linear-gradient(#fdfdfd,#ececec);text-align:center;font-size:19px;line-height:36px;font-family:'DejaVu Sans Condensed','DejaVu Sans',sans-serif">+</div>
<div class="sp" style="left:1633px;top:156px">Com</div>
<div class="pb" style="top:257px">P1</div>
<div class="pb" style="top:295.5px">P2</div>
<div class="pb" style="top:334px">P3</div>
<div class="pb" style="top:372px">P4</div>
<div class="pb" style="top:410.5px">P5</div>
<div class="pb" style="top:449px">P6</div>
<div class="pb" style="top:487px">P7</div>
<div class="sp" style="left:1632px;top:646px">Elem</div>
<div class="abs" style="left:1636px;top:676px;width:50px;height:160px;border:1px solid #dcdcdc;border-radius:3px;background:#f6f6f6"></div>
<div class="sw" style="top:684px;height:22px;background:#5ec85a"></div>
<div class="sw" style="top:722px;height:22px;background:#f47a62"></div>
<div class="sw" style="top:760px;height:22px;background:#5aa8cc"></div>
<div class="sw" style="top:798px;height:22px;background:#f8f07a"></div>
<div class="sp" style="left:1629px;top:1006px">Prese</div>
<svg class="abs" style="left:1190px;top:1100px" width="40" height="8"><g fill="#b0b0b0"><rect x="7" y="3.5" width="1.5" height="1.5"/><rect x="12" y="3.5" width="1.5" height="1.5"/><rect x="17" y="3.5" width="1.5" height="1.5"/><rect x="22" y="3.5" width="1.5" height="1.5"/><rect x="27" y="3.5" width="1.5" height="1.5"/><rect x="32" y="3.5" width="1.5" height="1.5"/></g></svg>
<svg class="abs" style="left:1630px;top:1064px" width="30" height="24"><path d="M2.5 3.5 H25 L16.5 12 V20.5 H11 V12 Z" fill="#eef2f6" stroke="#5a6470" stroke-width="1.5" stroke-linejoin="round"/></svg>
<div class="sp" style="left:1662px;top:1065px">F</div>
</body></html>
